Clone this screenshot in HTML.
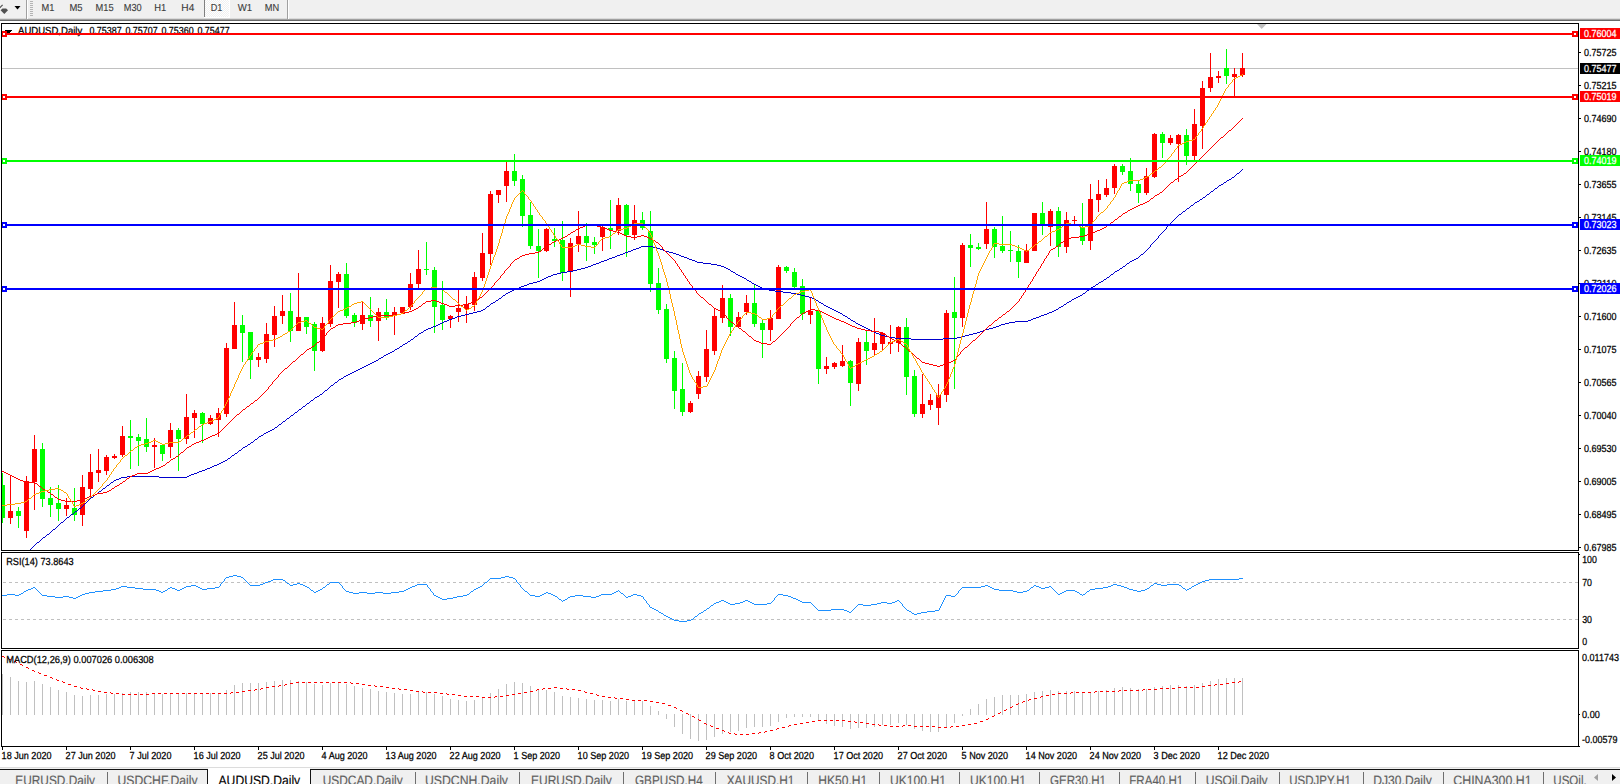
<!DOCTYPE html><html><head><meta charset="utf-8"><title>AUDUSD,Daily</title>
<style>html,body{margin:0;padding:0;background:#fff;overflow:hidden}svg{display:block}text{font-family:"Liberation Sans",sans-serif;font-size:10.2px;fill:#000;stroke:#000;stroke-width:0.25px;text-rendering:geometricPrecision}.tb{fill:#3c3c3c;stroke:#3c3c3c;stroke-width:0.12px}.tab{font-size:13.6px;fill:#5f5f5f;stroke:#5f5f5f;stroke-width:0.15px}.w{fill:#fff;stroke:#fff}</style></head><body>
<svg width="1620" height="784" viewBox="0 0 1620 784" shape-rendering="crispEdges">
<rect x="0" y="0" width="1620" height="784" fill="#fff"/>
<rect x="0" y="0" width="1620" height="19" fill="#f0f0f0"/>
<rect x="0" y="18" width="1620" height="1" fill="#dadada"/>
<rect x="0" y="19" width="1620" height="1" fill="#a0a0a0"/>
<rect x="0" y="20" width="1620" height="1" fill="#696969"/>
<path d="M2.5 8.6 L6.2 8.6 L8 10.3 L4.3 14 L0.6 10.3 Z" fill="#505050" shape-rendering="auto"/><path d="M-0.3 7.9 L2.6 4.8" stroke="#505050" stroke-width="1.2" shape-rendering="auto"/>
<path d="M14.5 6 L20.5 6 L17.5 9.5 Z" fill="#000" shape-rendering="auto"/>
<rect x="26" y="0" width="1" height="19" fill="#a0a0a0"/><rect x="27" y="0" width="1" height="19" fill="#fff"/>
<rect x="30" y="1" width="3" height="1" fill="#b4b4b4"/>
<rect x="30" y="3" width="3" height="1" fill="#b4b4b4"/>
<rect x="30" y="5" width="3" height="1" fill="#b4b4b4"/>
<rect x="30" y="7" width="3" height="1" fill="#b4b4b4"/>
<rect x="30" y="9" width="3" height="1" fill="#b4b4b4"/>
<rect x="30" y="11" width="3" height="1" fill="#b4b4b4"/>
<rect x="30" y="13" width="3" height="1" fill="#b4b4b4"/>
<rect x="30" y="15" width="3" height="1" fill="#b4b4b4"/>
<defs><pattern id="chk" width="2" height="2" patternUnits="userSpaceOnUse"><rect width="2" height="2" fill="#f0f0f0"/><rect width="1" height="1" fill="#fff"/><rect x="1" y="1" width="1" height="1" fill="#fff"/></pattern></defs>
<rect x="205" y="0" width="24" height="17" fill="url(#chk)"/><rect x="204" y="0" width="1" height="17" fill="#808080"/><rect x="204" y="17" width="26" height="1" fill="#fff"/><rect x="229" y="0" width="1" height="17" fill="#fff"/>
<rect x="287" y="0" width="1" height="19" fill="#a0a0a0"/><rect x="288" y="0" width="1" height="19" fill="#fff"/>
<text class="tb" x="41.5" y="11" textLength="12.9" lengthAdjust="spacingAndGlyphs">M1</text>
<text class="tb" x="69.4" y="11" textLength="13.1" lengthAdjust="spacingAndGlyphs">M5</text>
<text class="tb" x="95.5" y="11" textLength="18.1" lengthAdjust="spacingAndGlyphs">M15</text>
<text class="tb" x="123.7" y="11" textLength="18.0" lengthAdjust="spacingAndGlyphs">M30</text>
<text class="tb" x="154.3" y="11" textLength="12.0" lengthAdjust="spacingAndGlyphs">H1</text>
<text class="tb" x="181.3" y="11" textLength="13.0" lengthAdjust="spacingAndGlyphs">H4</text>
<text class="tb" x="210.7" y="11" textLength="11.6" lengthAdjust="spacingAndGlyphs">D1</text>
<text class="tb" x="237.8" y="11" textLength="14.4" lengthAdjust="spacingAndGlyphs">W1</text>
<text class="tb" x="264.7" y="11" textLength="14.4" lengthAdjust="spacingAndGlyphs">MN</text>
<defs><clipPath id="cm"><rect x="2" y="24" width="1576" height="526"/></clipPath></defs>
<rect x="2" y="68" width="1576" height="1" fill="#c0c0c0"/>
<g clip-path="url(#cm)">
<rect x="2" y="473" width="1" height="50" fill="#00ff00"/>
<rect x="0" y="485" width="5" height="33" fill="#00ff00"/>
<rect x="10" y="476" width="1" height="48" fill="#ff0000"/>
<rect x="8" y="511" width="5" height="7" fill="#ff0000"/>
<rect x="18" y="507" width="1" height="21" fill="#00ff00"/>
<rect x="16" y="511" width="5" height="5" fill="#00ff00"/>
<rect x="26" y="476" width="1" height="62" fill="#ff0000"/>
<rect x="24" y="481" width="5" height="50" fill="#ff0000"/>
<rect x="34" y="435" width="1" height="75" fill="#ff0000"/>
<rect x="32" y="449" width="5" height="33" fill="#ff0000"/>
<rect x="42" y="443" width="1" height="64" fill="#00ff00"/>
<rect x="40" y="449" width="5" height="50" fill="#00ff00"/>
<rect x="50" y="487" width="1" height="30" fill="#00ff00"/>
<rect x="48" y="498" width="5" height="7" fill="#00ff00"/>
<rect x="58" y="485" width="1" height="36" fill="#00ff00"/>
<rect x="56" y="503" width="5" height="6" fill="#00ff00"/>
<rect x="66" y="498" width="1" height="18" fill="#ff0000"/>
<rect x="64" y="505" width="5" height="4" fill="#ff0000"/>
<rect x="74" y="488" width="1" height="33" fill="#00ff00"/>
<rect x="72" y="508" width="5" height="7" fill="#00ff00"/>
<rect x="82" y="475" width="1" height="51" fill="#ff0000"/>
<rect x="80" y="487" width="5" height="28" fill="#ff0000"/>
<rect x="90" y="454" width="1" height="43" fill="#ff0000"/>
<rect x="88" y="472" width="5" height="17" fill="#ff0000"/>
<rect x="98" y="449" width="1" height="33" fill="#ff0000"/>
<rect x="96" y="470" width="5" height="3" fill="#ff0000"/>
<rect x="106" y="455" width="1" height="20" fill="#ff0000"/>
<rect x="104" y="457" width="5" height="14" fill="#ff0000"/>
<rect x="114" y="454" width="1" height="5" fill="#ff0000"/>
<rect x="112" y="456" width="5" height="2" fill="#ff0000"/>
<rect x="122" y="426" width="1" height="31" fill="#ff0000"/>
<rect x="120" y="436" width="5" height="19" fill="#ff0000"/>
<rect x="130" y="420" width="1" height="49" fill="#00ff00"/>
<rect x="128" y="436" width="5" height="2" fill="#00ff00"/>
<rect x="138" y="434" width="1" height="32" fill="#00ff00"/>
<rect x="136" y="437" width="5" height="4" fill="#00ff00"/>
<rect x="146" y="418" width="1" height="34" fill="#00ff00"/>
<rect x="144" y="439" width="5" height="8" fill="#00ff00"/>
<rect x="154" y="438" width="1" height="30" fill="#ff0000"/>
<rect x="152" y="445" width="5" height="2" fill="#ff0000"/>
<rect x="162" y="445" width="1" height="16" fill="#00ff00"/>
<rect x="160" y="445" width="5" height="9" fill="#00ff00"/>
<rect x="170" y="423" width="1" height="35" fill="#ff0000"/>
<rect x="168" y="430" width="5" height="17" fill="#ff0000"/>
<rect x="178" y="428" width="1" height="43" fill="#00ff00"/>
<rect x="176" y="430" width="5" height="9" fill="#00ff00"/>
<rect x="186" y="394" width="1" height="50" fill="#ff0000"/>
<rect x="184" y="417" width="5" height="22" fill="#ff0000"/>
<rect x="194" y="410" width="1" height="28" fill="#ff0000"/>
<rect x="192" y="413" width="5" height="5" fill="#ff0000"/>
<rect x="202" y="412" width="1" height="31" fill="#00ff00"/>
<rect x="200" y="413" width="5" height="11" fill="#00ff00"/>
<rect x="210" y="415" width="1" height="10" fill="#ff0000"/>
<rect x="208" y="418" width="5" height="6" fill="#ff0000"/>
<rect x="218" y="408" width="1" height="29" fill="#ff0000"/>
<rect x="216" y="413" width="5" height="7" fill="#ff0000"/>
<rect x="226" y="343" width="1" height="74" fill="#ff0000"/>
<rect x="224" y="348" width="5" height="66" fill="#ff0000"/>
<rect x="234" y="302" width="1" height="47" fill="#ff0000"/>
<rect x="232" y="325" width="5" height="24" fill="#ff0000"/>
<rect x="242" y="315" width="1" height="47" fill="#00ff00"/>
<rect x="240" y="325" width="5" height="8" fill="#00ff00"/>
<rect x="250" y="332" width="1" height="47" fill="#00ff00"/>
<rect x="248" y="332" width="5" height="28" fill="#00ff00"/>
<rect x="258" y="353" width="1" height="14" fill="#ff0000"/>
<rect x="256" y="357" width="5" height="3" fill="#ff0000"/>
<rect x="266" y="323" width="1" height="40" fill="#ff0000"/>
<rect x="264" y="334" width="5" height="25" fill="#ff0000"/>
<rect x="274" y="306" width="1" height="41" fill="#ff0000"/>
<rect x="272" y="316" width="5" height="19" fill="#ff0000"/>
<rect x="282" y="295" width="1" height="29" fill="#ff0000"/>
<rect x="280" y="311" width="5" height="5" fill="#ff0000"/>
<rect x="290" y="293" width="1" height="49" fill="#00ff00"/>
<rect x="288" y="311" width="5" height="20" fill="#00ff00"/>
<rect x="298" y="273" width="1" height="58" fill="#ff0000"/>
<rect x="296" y="317" width="5" height="14" fill="#ff0000"/>
<rect x="306" y="317" width="1" height="17" fill="#00ff00"/>
<rect x="304" y="317" width="5" height="10" fill="#00ff00"/>
<rect x="314" y="322" width="1" height="49" fill="#00ff00"/>
<rect x="312" y="324" width="5" height="27" fill="#00ff00"/>
<rect x="322" y="317" width="1" height="35" fill="#ff0000"/>
<rect x="320" y="323" width="5" height="28" fill="#ff0000"/>
<rect x="330" y="265" width="1" height="62" fill="#ff0000"/>
<rect x="328" y="281" width="5" height="43" fill="#ff0000"/>
<rect x="338" y="272" width="1" height="36" fill="#ff0000"/>
<rect x="336" y="274" width="5" height="8" fill="#ff0000"/>
<rect x="346" y="263" width="1" height="55" fill="#00ff00"/>
<rect x="344" y="274" width="5" height="42" fill="#00ff00"/>
<rect x="354" y="313" width="1" height="14" fill="#00ff00"/>
<rect x="352" y="315" width="5" height="8" fill="#00ff00"/>
<rect x="362" y="301" width="1" height="29" fill="#ff0000"/>
<rect x="360" y="315" width="5" height="9" fill="#ff0000"/>
<rect x="370" y="297" width="1" height="30" fill="#00ff00"/>
<rect x="368" y="315" width="5" height="6" fill="#00ff00"/>
<rect x="378" y="308" width="1" height="33" fill="#ff0000"/>
<rect x="376" y="312" width="5" height="9" fill="#ff0000"/>
<rect x="386" y="299" width="1" height="21" fill="#00ff00"/>
<rect x="384" y="312" width="5" height="5" fill="#00ff00"/>
<rect x="394" y="307" width="1" height="28" fill="#ff0000"/>
<rect x="392" y="312" width="5" height="4" fill="#ff0000"/>
<rect x="402" y="307" width="1" height="6" fill="#ff0000"/>
<rect x="400" y="307" width="5" height="6" fill="#ff0000"/>
<rect x="410" y="273" width="1" height="37" fill="#ff0000"/>
<rect x="408" y="284" width="5" height="23" fill="#ff0000"/>
<rect x="418" y="250" width="1" height="38" fill="#ff0000"/>
<rect x="416" y="269" width="5" height="15" fill="#ff0000"/>
<rect x="426" y="242" width="1" height="33" fill="#00ff00"/>
<rect x="424" y="269" width="5" height="1" fill="#00ff00"/>
<rect x="434" y="267" width="1" height="66" fill="#00ff00"/>
<rect x="432" y="270" width="5" height="37" fill="#00ff00"/>
<rect x="442" y="281" width="1" height="49" fill="#00ff00"/>
<rect x="440" y="305" width="5" height="15" fill="#00ff00"/>
<rect x="450" y="315" width="1" height="13" fill="#ff0000"/>
<rect x="448" y="316" width="5" height="3" fill="#ff0000"/>
<rect x="458" y="289" width="1" height="33" fill="#ff0000"/>
<rect x="456" y="308" width="5" height="4" fill="#ff0000"/>
<rect x="466" y="296" width="1" height="27" fill="#ff0000"/>
<rect x="464" y="304" width="5" height="5" fill="#ff0000"/>
<rect x="474" y="272" width="1" height="39" fill="#ff0000"/>
<rect x="472" y="277" width="5" height="28" fill="#ff0000"/>
<rect x="482" y="233" width="1" height="48" fill="#ff0000"/>
<rect x="480" y="253" width="5" height="25" fill="#ff0000"/>
<rect x="490" y="191" width="1" height="74" fill="#ff0000"/>
<rect x="488" y="194" width="5" height="60" fill="#ff0000"/>
<rect x="498" y="190" width="1" height="13" fill="#ff0000"/>
<rect x="496" y="190" width="5" height="5" fill="#ff0000"/>
<rect x="506" y="162" width="1" height="40" fill="#ff0000"/>
<rect x="504" y="171" width="5" height="15" fill="#ff0000"/>
<rect x="514" y="154" width="1" height="32" fill="#00ff00"/>
<rect x="512" y="171" width="5" height="10" fill="#00ff00"/>
<rect x="522" y="175" width="1" height="52" fill="#00ff00"/>
<rect x="520" y="179" width="5" height="37" fill="#00ff00"/>
<rect x="530" y="202" width="1" height="47" fill="#00ff00"/>
<rect x="528" y="215" width="5" height="31" fill="#00ff00"/>
<rect x="538" y="229" width="1" height="49" fill="#00ff00"/>
<rect x="536" y="246" width="5" height="5" fill="#00ff00"/>
<rect x="546" y="228" width="1" height="24" fill="#ff0000"/>
<rect x="544" y="229" width="5" height="22" fill="#ff0000"/>
<rect x="554" y="228" width="1" height="19" fill="#00ff00"/>
<rect x="552" y="239" width="5" height="2" fill="#00ff00"/>
<rect x="562" y="221" width="1" height="60" fill="#00ff00"/>
<rect x="560" y="240" width="5" height="33" fill="#00ff00"/>
<rect x="570" y="238" width="1" height="59" fill="#ff0000"/>
<rect x="568" y="243" width="5" height="29" fill="#ff0000"/>
<rect x="578" y="211" width="1" height="41" fill="#ff0000"/>
<rect x="576" y="236" width="5" height="8" fill="#ff0000"/>
<rect x="586" y="223" width="1" height="38" fill="#00ff00"/>
<rect x="584" y="236" width="5" height="7" fill="#00ff00"/>
<rect x="594" y="237" width="1" height="17" fill="#00ff00"/>
<rect x="592" y="242" width="5" height="3" fill="#00ff00"/>
<rect x="602" y="226" width="1" height="25" fill="#ff0000"/>
<rect x="600" y="227" width="5" height="10" fill="#ff0000"/>
<rect x="610" y="200" width="1" height="49" fill="#00ff00"/>
<rect x="608" y="228" width="5" height="2" fill="#00ff00"/>
<rect x="618" y="198" width="1" height="37" fill="#ff0000"/>
<rect x="616" y="205" width="5" height="26" fill="#ff0000"/>
<rect x="626" y="204" width="1" height="53" fill="#00ff00"/>
<rect x="624" y="205" width="5" height="30" fill="#00ff00"/>
<rect x="634" y="205" width="1" height="35" fill="#ff0000"/>
<rect x="632" y="220" width="5" height="15" fill="#ff0000"/>
<rect x="642" y="212" width="1" height="18" fill="#00ff00"/>
<rect x="640" y="220" width="5" height="8" fill="#00ff00"/>
<rect x="650" y="211" width="1" height="81" fill="#00ff00"/>
<rect x="648" y="231" width="5" height="53" fill="#00ff00"/>
<rect x="658" y="268" width="1" height="46" fill="#00ff00"/>
<rect x="656" y="283" width="5" height="27" fill="#00ff00"/>
<rect x="666" y="304" width="1" height="59" fill="#00ff00"/>
<rect x="664" y="309" width="5" height="50" fill="#00ff00"/>
<rect x="674" y="351" width="1" height="58" fill="#00ff00"/>
<rect x="672" y="358" width="5" height="33" fill="#00ff00"/>
<rect x="682" y="363" width="1" height="53" fill="#00ff00"/>
<rect x="680" y="389" width="5" height="23" fill="#00ff00"/>
<rect x="690" y="401" width="1" height="12" fill="#ff0000"/>
<rect x="688" y="403" width="5" height="9" fill="#ff0000"/>
<rect x="698" y="371" width="1" height="28" fill="#ff0000"/>
<rect x="696" y="376" width="5" height="18" fill="#ff0000"/>
<rect x="706" y="330" width="1" height="52" fill="#ff0000"/>
<rect x="704" y="349" width="5" height="28" fill="#ff0000"/>
<rect x="714" y="308" width="1" height="47" fill="#ff0000"/>
<rect x="712" y="316" width="5" height="35" fill="#ff0000"/>
<rect x="722" y="285" width="1" height="38" fill="#ff0000"/>
<rect x="720" y="298" width="5" height="20" fill="#ff0000"/>
<rect x="730" y="294" width="1" height="42" fill="#00ff00"/>
<rect x="728" y="298" width="5" height="29" fill="#00ff00"/>
<rect x="738" y="312" width="1" height="16" fill="#ff0000"/>
<rect x="736" y="317" width="5" height="10" fill="#ff0000"/>
<rect x="746" y="295" width="1" height="20" fill="#ff0000"/>
<rect x="744" y="303" width="5" height="9" fill="#ff0000"/>
<rect x="754" y="285" width="1" height="42" fill="#00ff00"/>
<rect x="752" y="303" width="5" height="21" fill="#00ff00"/>
<rect x="762" y="320" width="1" height="38" fill="#00ff00"/>
<rect x="760" y="323" width="5" height="7" fill="#00ff00"/>
<rect x="770" y="310" width="1" height="31" fill="#ff0000"/>
<rect x="768" y="318" width="5" height="12" fill="#ff0000"/>
<rect x="778" y="265" width="1" height="54" fill="#ff0000"/>
<rect x="776" y="267" width="5" height="52" fill="#ff0000"/>
<rect x="786" y="266" width="1" height="7" fill="#00ff00"/>
<rect x="784" y="267" width="5" height="4" fill="#00ff00"/>
<rect x="794" y="268" width="1" height="20" fill="#00ff00"/>
<rect x="792" y="272" width="5" height="15" fill="#00ff00"/>
<rect x="802" y="279" width="1" height="41" fill="#00ff00"/>
<rect x="800" y="286" width="5" height="28" fill="#00ff00"/>
<rect x="810" y="298" width="1" height="26" fill="#ff0000"/>
<rect x="808" y="311" width="5" height="4" fill="#ff0000"/>
<rect x="818" y="311" width="1" height="73" fill="#00ff00"/>
<rect x="816" y="311" width="5" height="58" fill="#00ff00"/>
<rect x="826" y="357" width="1" height="17" fill="#ff0000"/>
<rect x="824" y="366" width="5" height="3" fill="#ff0000"/>
<rect x="834" y="362" width="1" height="7" fill="#ff0000"/>
<rect x="832" y="363" width="5" height="4" fill="#ff0000"/>
<rect x="842" y="345" width="1" height="22" fill="#ff0000"/>
<rect x="840" y="361" width="5" height="5" fill="#ff0000"/>
<rect x="850" y="360" width="1" height="46" fill="#00ff00"/>
<rect x="848" y="361" width="5" height="22" fill="#00ff00"/>
<rect x="858" y="338" width="1" height="53" fill="#ff0000"/>
<rect x="856" y="342" width="5" height="42" fill="#ff0000"/>
<rect x="866" y="331" width="1" height="34" fill="#00ff00"/>
<rect x="864" y="342" width="5" height="9" fill="#00ff00"/>
<rect x="874" y="318" width="1" height="37" fill="#ff0000"/>
<rect x="872" y="343" width="5" height="7" fill="#ff0000"/>
<rect x="882" y="332" width="1" height="18" fill="#ff0000"/>
<rect x="880" y="333" width="5" height="11" fill="#ff0000"/>
<rect x="890" y="325" width="1" height="29" fill="#ff0000"/>
<rect x="888" y="342" width="5" height="2" fill="#ff0000"/>
<rect x="898" y="326" width="1" height="26" fill="#ff0000"/>
<rect x="896" y="327" width="5" height="16" fill="#ff0000"/>
<rect x="906" y="318" width="1" height="77" fill="#00ff00"/>
<rect x="904" y="327" width="5" height="50" fill="#00ff00"/>
<rect x="914" y="370" width="1" height="47" fill="#00ff00"/>
<rect x="912" y="376" width="5" height="38" fill="#00ff00"/>
<rect x="922" y="374" width="1" height="44" fill="#ff0000"/>
<rect x="920" y="404" width="5" height="10" fill="#ff0000"/>
<rect x="930" y="394" width="1" height="16" fill="#ff0000"/>
<rect x="928" y="400" width="5" height="5" fill="#ff0000"/>
<rect x="938" y="384" width="1" height="41" fill="#ff0000"/>
<rect x="936" y="395" width="5" height="13" fill="#ff0000"/>
<rect x="946" y="310" width="1" height="92" fill="#ff0000"/>
<rect x="944" y="313" width="5" height="82" fill="#ff0000"/>
<rect x="954" y="277" width="1" height="112" fill="#00ff00"/>
<rect x="952" y="312" width="5" height="6" fill="#00ff00"/>
<rect x="962" y="243" width="1" height="84" fill="#ff0000"/>
<rect x="960" y="245" width="5" height="73" fill="#ff0000"/>
<rect x="970" y="234" width="1" height="33" fill="#00ff00"/>
<rect x="968" y="245" width="5" height="3" fill="#00ff00"/>
<rect x="978" y="243" width="1" height="7" fill="#00ff00"/>
<rect x="976" y="247" width="5" height="2" fill="#00ff00"/>
<rect x="986" y="202" width="1" height="47" fill="#ff0000"/>
<rect x="984" y="229" width="5" height="15" fill="#ff0000"/>
<rect x="994" y="227" width="1" height="31" fill="#00ff00"/>
<rect x="992" y="229" width="5" height="18" fill="#00ff00"/>
<rect x="1002" y="216" width="1" height="37" fill="#00ff00"/>
<rect x="1000" y="246" width="5" height="5" fill="#00ff00"/>
<rect x="1010" y="231" width="1" height="31" fill="#00ff00"/>
<rect x="1008" y="250" width="5" height="1" fill="#00ff00"/>
<rect x="1018" y="245" width="1" height="33" fill="#00ff00"/>
<rect x="1016" y="251" width="5" height="11" fill="#00ff00"/>
<rect x="1026" y="244" width="1" height="19" fill="#ff0000"/>
<rect x="1024" y="251" width="5" height="12" fill="#ff0000"/>
<rect x="1034" y="213" width="1" height="38" fill="#ff0000"/>
<rect x="1032" y="213" width="5" height="38" fill="#ff0000"/>
<rect x="1042" y="202" width="1" height="33" fill="#00ff00"/>
<rect x="1040" y="213" width="5" height="12" fill="#00ff00"/>
<rect x="1050" y="209" width="1" height="37" fill="#ff0000"/>
<rect x="1048" y="211" width="5" height="16" fill="#ff0000"/>
<rect x="1058" y="207" width="1" height="50" fill="#00ff00"/>
<rect x="1056" y="211" width="5" height="36" fill="#00ff00"/>
<rect x="1066" y="212" width="1" height="41" fill="#ff0000"/>
<rect x="1064" y="220" width="5" height="27" fill="#ff0000"/>
<rect x="1074" y="216" width="1" height="8" fill="#ff0000"/>
<rect x="1072" y="220" width="5" height="1" fill="#ff0000"/>
<rect x="1082" y="203" width="1" height="42" fill="#00ff00"/>
<rect x="1080" y="227" width="5" height="14" fill="#00ff00"/>
<rect x="1090" y="184" width="1" height="66" fill="#ff0000"/>
<rect x="1088" y="199" width="5" height="42" fill="#ff0000"/>
<rect x="1098" y="180" width="1" height="32" fill="#ff0000"/>
<rect x="1096" y="194" width="5" height="6" fill="#ff0000"/>
<rect x="1106" y="179" width="1" height="18" fill="#ff0000"/>
<rect x="1104" y="188" width="5" height="7" fill="#ff0000"/>
<rect x="1114" y="164" width="1" height="30" fill="#ff0000"/>
<rect x="1112" y="166" width="5" height="22" fill="#ff0000"/>
<rect x="1122" y="164" width="1" height="11" fill="#00ff00"/>
<rect x="1120" y="166" width="5" height="6" fill="#00ff00"/>
<rect x="1130" y="158" width="1" height="33" fill="#00ff00"/>
<rect x="1128" y="171" width="5" height="13" fill="#00ff00"/>
<rect x="1138" y="181" width="1" height="22" fill="#00ff00"/>
<rect x="1136" y="184" width="5" height="9" fill="#00ff00"/>
<rect x="1146" y="168" width="1" height="27" fill="#ff0000"/>
<rect x="1144" y="176" width="5" height="17" fill="#ff0000"/>
<rect x="1154" y="133" width="1" height="45" fill="#ff0000"/>
<rect x="1152" y="134" width="5" height="43" fill="#ff0000"/>
<rect x="1162" y="132" width="1" height="26" fill="#00ff00"/>
<rect x="1160" y="134" width="5" height="9" fill="#00ff00"/>
<rect x="1170" y="135" width="1" height="10" fill="#ff0000"/>
<rect x="1168" y="138" width="5" height="5" fill="#ff0000"/>
<rect x="1178" y="134" width="1" height="48" fill="#ff0000"/>
<rect x="1176" y="135" width="5" height="9" fill="#ff0000"/>
<rect x="1186" y="129" width="1" height="36" fill="#00ff00"/>
<rect x="1184" y="135" width="5" height="21" fill="#00ff00"/>
<rect x="1194" y="109" width="1" height="51" fill="#ff0000"/>
<rect x="1192" y="124" width="5" height="32" fill="#ff0000"/>
<rect x="1202" y="81" width="1" height="68" fill="#ff0000"/>
<rect x="1200" y="88" width="5" height="38" fill="#ff0000"/>
<rect x="1210" y="53" width="1" height="39" fill="#ff0000"/>
<rect x="1208" y="77" width="5" height="11" fill="#ff0000"/>
<rect x="1218" y="71" width="1" height="12" fill="#ff0000"/>
<rect x="1216" y="76" width="5" height="2" fill="#ff0000"/>
<rect x="1226" y="49" width="1" height="35" fill="#00ff00"/>
<rect x="1224" y="68" width="5" height="8" fill="#00ff00"/>
<rect x="1234" y="68" width="1" height="28" fill="#ff0000"/>
<rect x="1232" y="74" width="5" height="3" fill="#ff0000"/>
<rect x="1242" y="53" width="1" height="24" fill="#ff0000"/>
<rect x="1240" y="68" width="5" height="7" fill="#ff0000"/>
<path d="M1242 169.5h1M1241 170.5h1M1240 171.5h1M1239 172.5h1M1237 173.5h2M1236 174.5h1M1235 175.5h1M1234 176.5h1M1232 177.5h2M1231 178.5h1M1229 179.5h2M1227 180.5h2M1226 181.5h1M1224 182.5h2M1223 183.5h1M1221 184.5h2M1219 185.5h2M1218 186.5h1M1217 187.5h1M1215 188.5h2M1214 189.5h1M1213 190.5h1M1211 191.5h2M1210 192.5h1M1209 193.5h1M1207 194.5h2M1206 195.5h1M1205 196.5h1M1203 197.5h2M1202 198.5h1M1200 199.5h2M1199 200.5h1M1197 201.5h2M1195 202.5h2M1194 203.5h1M1193 204.5h1M1191 205.5h2M1190 206.5h1M1189 207.5h1M1187 208.5h2M1186 209.5h1M1185 210.5h1M1183 211.5h2M1182 212.5h1M1181 213.5h1M1179 214.5h2M1178 215.5h1M1177 216.5h1M1176 217.5h1M1175 218.5h1M1174 219.5h1M1173 220.5h1M1172 221.5h1M1171 222.5h1M1170 223.5h1M1169 224.5h1M1168 225.5h1M1167 226.5h1M1166.5 227v2M1165 229.5h1M1164 230.5h1M1163 231.5h1M1162 232.5h1M1161 233.5h1M1160 234.5h1M1159 235.5h1M1158.5 236v2M1157 238.5h1M1156 239.5h1M1155 240.5h1M1154 241.5h1M1153 242.5h1M1152 243.5h1M1151 244.5h1M1150.5 245v2M641 246.5h12M639 247.5h2M653 247.5h4M1149 247.5h1M636 248.5h3M657 248.5h3M1148 248.5h1M633 249.5h3M660 249.5h3M1147 249.5h1M631 250.5h2M663 250.5h2M1146 250.5h1M628 251.5h3M665 251.5h4M1145 251.5h1M625 252.5h3M669 252.5h4M1144 252.5h1M623 253.5h2M673 253.5h3M1143 253.5h1M620 254.5h3M676 254.5h3M1141 254.5h2M617 255.5h3M679 255.5h2M1140 255.5h1M615 256.5h2M681 256.5h3M1139 256.5h1M612 257.5h3M684 257.5h3M1138 257.5h1M609 258.5h3M687 258.5h2M1136 258.5h2M607 259.5h2M689 259.5h3M1134 259.5h2M604 260.5h3M692 260.5h3M1132 260.5h2M601 261.5h3M695 261.5h2M1130 261.5h2M599 262.5h2M697 262.5h6M1129 262.5h1M596 263.5h3M703 263.5h8M1127 263.5h2M593 264.5h3M711 264.5h6M1126 264.5h1M591 265.5h2M717 265.5h4M1125 265.5h1M588 266.5h3M721 266.5h3M1123 266.5h2M585 267.5h3M724 267.5h2M1122 267.5h1M581 268.5h4M726 268.5h2M1120 268.5h2M577 269.5h4M728 269.5h2M1119 269.5h1M573 270.5h4M730 270.5h1M1117 270.5h2M567 271.5h6M731 271.5h2M1115 271.5h2M561 272.5h6M733 272.5h2M1114 272.5h1M557 273.5h4M735 273.5h1M1113 273.5h1M553 274.5h4M736 274.5h2M1111 274.5h2M551 275.5h2M738 275.5h2M1110 275.5h1M548 276.5h3M740 276.5h2M1109 276.5h1M546 277.5h2M742 277.5h2M1107 277.5h2M544 278.5h2M744 278.5h2M1106 278.5h1M542 279.5h2M746 279.5h1M1104 279.5h2M540 280.5h2M747 280.5h2M1103 280.5h1M537 281.5h3M749 281.5h2M1101 281.5h2M533 282.5h4M751 282.5h1M1099 282.5h2M529 283.5h4M752 283.5h2M1098 283.5h1M527 284.5h2M754 284.5h2M1096 284.5h2M524 285.5h3M756 285.5h2M1095 285.5h1M521 286.5h3M758 286.5h2M1093 286.5h2M519 287.5h2M760 287.5h2M1091 287.5h2M516 288.5h3M762 288.5h3M1090 288.5h1M514 289.5h2M765 289.5h4M1089 289.5h1M512 290.5h2M769 290.5h6M1087 290.5h2M510 291.5h2M775 291.5h8M1086 291.5h1M508 292.5h2M783 292.5h8M1085 292.5h1M506 293.5h2M791 293.5h6M1083 293.5h2M505 294.5h1M797 294.5h4M1082 294.5h1M503 295.5h2M801 295.5h4M1080 295.5h2M502 296.5h1M805 296.5h4M1078 296.5h2M501 297.5h1M809 297.5h3M1076 297.5h2M499 298.5h2M812 298.5h2M1074 298.5h2M498 299.5h1M814 299.5h2M1072 299.5h2M496 300.5h2M816 300.5h2M1071 300.5h1M495 301.5h1M818 301.5h1M1069 301.5h2M493 302.5h2M819 302.5h2M1067 302.5h2M491 303.5h2M821 303.5h2M1066 303.5h1M490 304.5h1M823 304.5h1M1064 304.5h2M489 305.5h1M824 305.5h2M1063 305.5h1M487 306.5h2M826 306.5h2M1061 306.5h2M486 307.5h1M828 307.5h2M1059 307.5h2M485 308.5h1M830 308.5h2M1058 308.5h1M483 309.5h2M832 309.5h2M1056 309.5h2M481 310.5h2M834 310.5h2M1054 310.5h2M477 311.5h4M836 311.5h2M1052 311.5h2M473 312.5h4M838 312.5h2M1049 312.5h3M469 313.5h4M840 313.5h2M1047 313.5h2M465 314.5h4M842 314.5h1M1044 314.5h3M461 315.5h4M843 315.5h2M1041 315.5h3M457 316.5h4M845 316.5h2M1039 316.5h2M455 317.5h2M847 317.5h1M1036 317.5h3M452 318.5h3M848 318.5h2M1033 318.5h3M449 319.5h3M850 319.5h1M1031 319.5h2M447 320.5h2M851 320.5h2M1028 320.5h3M444 321.5h3M853 321.5h2M1015 321.5h13M442 322.5h2M855 322.5h1M1009 322.5h6M440 323.5h2M856 323.5h2M1005 323.5h4M438 324.5h2M858 324.5h2M1001 324.5h4M436 325.5h2M860 325.5h2M999 325.5h2M433 326.5h3M862 326.5h2M996 326.5h3M431 327.5h2M864 327.5h2M993 327.5h3M428 328.5h3M866 328.5h2M989 328.5h4M426 329.5h2M868 329.5h2M985 329.5h4M424 330.5h2M870 330.5h2M983 330.5h2M423 331.5h1M872 331.5h2M980 331.5h3M421 332.5h2M874 332.5h2M977 332.5h3M419 333.5h2M876 333.5h3M973 333.5h4M418 334.5h1M879 334.5h2M969 334.5h4M417 335.5h1M881 335.5h4M965 335.5h4M415 336.5h2M885 336.5h4M961 336.5h4M414 337.5h1M889 337.5h6M957 337.5h4M413 338.5h1M895 338.5h16M943 338.5h14M411 339.5h2M911 339.5h32M410 340.5h1M408 341.5h2M407 342.5h1M405 343.5h2M403 344.5h2M402 345.5h1M400 346.5h2M399 347.5h1M397 348.5h2M395 349.5h2M394 350.5h1M392 351.5h2M390 352.5h2M388 353.5h2M386 354.5h2M384 355.5h2M383 356.5h1M381 357.5h2M379 358.5h2M378 359.5h1M376 360.5h2M374 361.5h2M372 362.5h2M370 363.5h2M368 364.5h2M366 365.5h2M364 366.5h2M362 367.5h2M360 368.5h2M358 369.5h2M356 370.5h2M354 371.5h2M352 372.5h2M350 373.5h2M348 374.5h2M346 375.5h2M344 376.5h2M343 377.5h1M341 378.5h2M339 379.5h2M338 380.5h1M337 381.5h1M335 382.5h2M334 383.5h1M333 384.5h1M331 385.5h2M330 386.5h1M329 387.5h1M328 388.5h1M327 389.5h1M325 390.5h2M324 391.5h1M323 392.5h1M322 393.5h1M320 394.5h2M319 395.5h1M317 396.5h2M315 397.5h2M314 398.5h1M313 399.5h1M311 400.5h2M310 401.5h1M309 402.5h1M307 403.5h2M306 404.5h1M305 405.5h1M303 406.5h2M302 407.5h1M301 408.5h1M299 409.5h2M298 410.5h1M297 411.5h1M295 412.5h2M294 413.5h1M293 414.5h1M291 415.5h2M290 416.5h1M289 417.5h1M287 418.5h2M286 419.5h1M285 420.5h1M283 421.5h2M282 422.5h1M281 423.5h1M279 424.5h2M278 425.5h1M277 426.5h1M275 427.5h2M274 428.5h1M272 429.5h2M270 430.5h2M268 431.5h2M266 432.5h2M264 433.5h2M263 434.5h1M261 435.5h2M259 436.5h2M258 437.5h1M257 438.5h1M255 439.5h2M254 440.5h1M253 441.5h1M251 442.5h2M250 443.5h1M248 444.5h2M247 445.5h1M245 446.5h2M243 447.5h2M242 448.5h1M241 449.5h1M239 450.5h2M238 451.5h1M237 452.5h1M235 453.5h2M234 454.5h1M232 455.5h2M231 456.5h1M230 457.5h1M228 458.5h2M227 459.5h1M225 460.5h2M223 461.5h2M221 462.5h2M219 463.5h2M217 464.5h2M214 465.5h3M212 466.5h2M210 467.5h2M207 468.5h3M205 469.5h2M202 470.5h3M199 471.5h3M197 472.5h2M194 473.5h3M191 474.5h3M189 475.5h2M127 476.5h32M187 476.5h2M121 477.5h6M159 477.5h28M119 478.5h2M116 479.5h3M114 480.5h2M113 481.5h1M111 482.5h2M110 483.5h1M109 484.5h1M107 485.5h2M106 486.5h1M105 487.5h1M103 488.5h2M102 489.5h1M101 490.5h1M99 491.5h2M98 492.5h1M97 493.5h1M95 494.5h2M94 495.5h1M93 496.5h1M91 497.5h2M90 498.5h1M89 499.5h1M88 500.5h1M87 501.5h1M86 502.5h1M85 503.5h1M84 504.5h1M83 505.5h1M82 506.5h1M81 507.5h1M79 508.5h2M78 509.5h1M77 510.5h1M75 511.5h2M74 512.5h1M73 513.5h1M71 514.5h2M70 515.5h1M69 516.5h1M67 517.5h2M66 518.5h1M65 519.5h1M64 520.5h1M63 521.5h1M61 522.5h2M60 523.5h1M59 524.5h1M58 525.5h1M57 526.5h1M56 527.5h1M55 528.5h1M53 529.5h2M52 530.5h1M51 531.5h1M50 532.5h1M49 533.5h1M47 534.5h2M46 535.5h1M45 536.5h1M43 537.5h2M42 538.5h1M41 539.5h1M40 540.5h1M39 541.5h1M37 542.5h2M36 543.5h1M35 544.5h1M34 545.5h1M33 546.5h1M32 547.5h1M31 548.5h1M30 549.5h1" fill="none" stroke="#0000cd" stroke-width="1"/>
<path d="M1242 118.5h1M1241 119.5h1M1240 120.5h1M1239 121.5h1M1238 122.5h1M1237 123.5h1M1236 124.5h1M1235 125.5h1M1234 126.5h1M1233 127.5h1M1232 128.5h1M1231 129.5h1M1229 130.5h2M1228 131.5h1M1227 132.5h1M1226 133.5h1M1225 134.5h1M1224 135.5h1M1223 136.5h1M1221 137.5h2M1220 138.5h1M1219 139.5h1M1218 140.5h1M1217 141.5h1M1216 142.5h1M1215 143.5h1M1214 144.5h1M1213 145.5h1M1212 146.5h1M1211 147.5h1M1210 148.5h1M1209 149.5h1M1208 150.5h1M1207 151.5h1M1206 152.5h1M1205 153.5h1M1204 154.5h1M1203 155.5h1M1202 156.5h1M1201 157.5h1M1200 158.5h1M1199 159.5h1M1198 160.5h1M1197 161.5h1M1196 162.5h1M1195 163.5h1M1194 164.5h1M1193 165.5h1M1192 166.5h1M1191 167.5h1M1190 168.5h1M1189 169.5h1M1188 170.5h1M1187 171.5h1M1186 172.5h1M1184 173.5h2M1183 174.5h1M1181 175.5h2M1179 176.5h2M1178 177.5h1M1177 178.5h1M1175 179.5h2M1174 180.5h1M1173 181.5h1M1171 182.5h2M1170 183.5h1M1169 184.5h1M1168 185.5h1M1167 186.5h1M1166 187.5h1M1165 188.5h1M1164 189.5h1M1163 190.5h1M1162 191.5h1M1160 192.5h2M1159 193.5h1M1157 194.5h2M1155 195.5h2M1154 196.5h1M1153 197.5h1M1151 198.5h2M1150 199.5h1M1149 200.5h1M1147 201.5h2M1145 202.5h2M1143 203.5h2M1140 204.5h3M1138 205.5h2M1136 206.5h2M1134 207.5h2M1132 208.5h2M1130 209.5h2M1128 210.5h2M1127 211.5h1M1125 212.5h2M1123 213.5h2M1122 214.5h1M1121 215.5h1M1119 216.5h2M1118 217.5h1M1117 218.5h1M1115 219.5h2M1114 220.5h1M1113 221.5h1M1111 222.5h2M1110 223.5h1M1109 224.5h1M585 225.5h12M1107 225.5h2M583 226.5h2M597 226.5h4M1106 226.5h1M580 227.5h3M601 227.5h3M1104 227.5h2M578 228.5h2M604 228.5h3M1102 228.5h2M576 229.5h2M607 229.5h2M1100 229.5h2M575 230.5h1M609 230.5h4M1097 230.5h3M573 231.5h2M613 231.5h4M1095 231.5h2M571 232.5h2M617 232.5h3M1092 232.5h3M570 233.5h1M620 233.5h2M1089 233.5h3M568 234.5h2M622 234.5h2M1087 234.5h2M567 235.5h1M624 235.5h2M641 235.5h3M1084 235.5h3M565 236.5h2M626 236.5h5M637 236.5h4M644 236.5h3M1079 236.5h5M563 237.5h2M631 237.5h6M647 237.5h2M1071 237.5h8M561 238.5h2M649 238.5h2M1066 238.5h5M559 239.5h2M651 239.5h2M1065 239.5h1M556 240.5h3M653 240.5h2M1064 240.5h1M554 241.5h2M655 241.5h1M1063 241.5h1M552 242.5h2M656 242.5h2M1061 242.5h2M551 243.5h1M658 243.5h1M1060 243.5h1M549 244.5h2M659 244.5h1M1059 244.5h1M547 245.5h2M660 245.5h1M1058 245.5h1M546 246.5h1M661 246.5h1M1056 246.5h2M545 247.5h1M662.5 247v2M1055 247.5h1M543 248.5h2M1053 248.5h2M542 249.5h1M663 249.5h1M1051 249.5h2M541 250.5h1M664 250.5h1M1050 250.5h1M539 251.5h2M665 251.5h1M1049.5 251v2M535 252.5h4M666 252.5h1M529 253.5h6M667 253.5h1M1048.5 253v2M525 254.5h4M668 254.5h1M522 255.5h3M669 255.5h1M1047 255.5h1M520 256.5h2M670 256.5h1M1046.5 256v2M519 257.5h1M671 257.5h1M517 258.5h2M672 258.5h1M1045 258.5h1M515 259.5h2M673 259.5h1M1044.5 259v2M514 260.5h1M674 260.5h1M513 261.5h1M675.5 261v2M1043.5 261v2M512 262.5h1M511 263.5h1M676 263.5h1M1042 263.5h1M510.5 264v2M677.5 264v2M1041.5 264v2M509 266.5h1M678 266.5h1M1040.5 266v2M508 267.5h1M679.5 267v2M507 268.5h1M1039 268.5h1M506 269.5h1M680 269.5h1M1038.5 269v2M505 270.5h1M681.5 270v2M504.5 271v2M1037 271.5h1M682 272.5h1M1036.5 272v2M503 273.5h1M683.5 273v2M502 274.5h1M1035.5 274v2M501 275.5h1M684 275.5h1M500.5 276v2M685.5 276v2M1034 276.5h1M1033.5 277v2M499 278.5h1M686 278.5h1M498 279.5h1M687.5 279v2M1032.5 279v2M497 280.5h1M496 281.5h1M688 281.5h1M1031 281.5h1M495 282.5h1M689.5 282v2M1030.5 282v2M494.5 283v2M690 284.5h1M1029 284.5h1M493 285.5h1M691 285.5h1M1028.5 285v2M492 286.5h1M692.5 286v2M491 287.5h1M1027.5 287v2M490 288.5h1M693 288.5h1M489 289.5h1M694 289.5h1M1026 289.5h1M488 290.5h1M695 290.5h1M1025.5 290v2M487 291.5h1M696.5 291v2M486 292.5h1M1024 292.5h1M485 293.5h1M697 293.5h1M1023.5 293v2M484 294.5h1M698 294.5h1M483 295.5h1M699 295.5h1M1022 295.5h1M482 296.5h1M700 296.5h1M1021.5 296v2M480 297.5h2M701 297.5h2M479 298.5h1M703 298.5h1M1020 298.5h1M477 299.5h2M704 299.5h1M1019.5 299v2M431 300.5h5M475 300.5h2M705 300.5h1M426 301.5h5M436 301.5h3M473 301.5h2M706 301.5h1M1018 301.5h1M425 302.5h1M439 302.5h2M471 302.5h2M707 302.5h1M1017 302.5h1M423 303.5h2M441 303.5h3M468 303.5h3M708 303.5h1M1016 303.5h1M422 304.5h1M444 304.5h3M463 304.5h5M709 304.5h2M1015 304.5h1M421 305.5h1M447 305.5h2M455 305.5h8M711 305.5h1M1014 305.5h1M419 306.5h2M449 306.5h6M712 306.5h1M1013 306.5h1M418 307.5h1M713 307.5h1M1012 307.5h1M416 308.5h2M714 308.5h2M1011 308.5h1M414 309.5h2M716 309.5h2M810 309.5h5M1010 309.5h1M412 310.5h2M718 310.5h2M808 310.5h2M815 310.5h5M1009 310.5h1M409 311.5h3M720 311.5h2M806 311.5h2M820 311.5h2M1007 311.5h2M405 312.5h4M722 312.5h1M804 312.5h2M822 312.5h2M1006 312.5h1M401 313.5h4M723 313.5h1M802 313.5h2M824 313.5h2M1005 313.5h1M397 314.5h4M724 314.5h1M801 314.5h1M826 314.5h2M1003 314.5h2M377 315.5h20M725 315.5h1M800 315.5h1M828 315.5h2M1002 315.5h1M373 316.5h4M726.5 316v2M799 316.5h1M830 316.5h2M1001 316.5h1M369 317.5h4M797 317.5h2M832 317.5h2M999 317.5h2M365 318.5h4M727 318.5h1M796 318.5h1M834 318.5h2M998 318.5h1M361 319.5h4M728 319.5h1M795 319.5h1M836 319.5h3M997 319.5h1M359 320.5h2M729 320.5h1M794 320.5h1M839 320.5h2M995 320.5h2M356 321.5h3M730 321.5h1M793 321.5h1M841 321.5h3M994 321.5h1M351 322.5h5M731 322.5h2M792 322.5h1M844 322.5h2M993 322.5h1M343 323.5h8M733 323.5h1M791 323.5h1M846 323.5h2M992 323.5h1M338 324.5h5M734 324.5h1M790.5 324v2M848 324.5h2M991 324.5h1M336 325.5h2M735 325.5h2M850 325.5h2M989 325.5h2M335 326.5h1M737 326.5h1M789 326.5h1M852 326.5h3M988 326.5h1M333 327.5h2M738 327.5h1M788 327.5h1M855 327.5h2M987 327.5h1M331 328.5h2M739 328.5h2M787 328.5h1M857 328.5h4M986 328.5h1M330 329.5h1M741 329.5h1M786 329.5h1M861 329.5h4M985 329.5h1M329 330.5h1M742 330.5h1M785 330.5h1M865 330.5h6M984 330.5h1M328 331.5h1M743 331.5h2M784 331.5h1M871 331.5h8M983 331.5h1M327 332.5h1M745 332.5h1M783 332.5h1M879 332.5h4M982 332.5h1M326.5 333v2M746 333.5h1M782 333.5h1M883 333.5h2M981 333.5h1M747 334.5h1M781 334.5h1M885 334.5h1M980 334.5h1M325 335.5h1M748 335.5h1M780 335.5h1M886 335.5h1M979 335.5h1M324 336.5h1M749 336.5h2M779 336.5h1M887 336.5h2M978 336.5h1M323 337.5h1M751 337.5h1M778 337.5h1M889 337.5h1M977 337.5h1M322 338.5h1M752 338.5h1M777 338.5h1M890 338.5h2M976 338.5h1M321 339.5h1M753 339.5h1M776 339.5h1M892 339.5h2M975 339.5h1M320 340.5h1M754 340.5h2M775 340.5h1M894 340.5h2M973 340.5h2M319 341.5h1M756 341.5h3M773 341.5h2M896 341.5h2M972 341.5h1M317 342.5h2M759 342.5h2M772 342.5h1M898 342.5h1M971 342.5h1M316 343.5h1M761 343.5h6M771 343.5h1M899 343.5h2M970 343.5h1M315 344.5h1M767 344.5h4M901 344.5h1M969 344.5h1M314 345.5h1M902 345.5h1M968 345.5h1M312 346.5h2M903 346.5h2M967 346.5h1M311 347.5h1M905 347.5h1M965 347.5h2M309 348.5h2M906 348.5h1M964 348.5h1M307 349.5h2M907 349.5h1M963 349.5h1M306 350.5h1M908 350.5h1M962 350.5h1M305 351.5h1M909 351.5h2M961 351.5h1M304 352.5h1M911 352.5h1M960.5 352v2M303 353.5h1M912 353.5h1M301 354.5h2M913 354.5h1M959 354.5h1M300 355.5h1M914 355.5h1M958 355.5h1M299 356.5h1M915 356.5h1M957 356.5h1M298 357.5h1M916 357.5h1M956.5 357v2M297 358.5h1M917 358.5h2M296 359.5h1M919 359.5h1M955 359.5h1M295 360.5h1M920 360.5h1M953 360.5h2M293 361.5h2M921 361.5h1M951 361.5h2M292 362.5h1M922 362.5h3M948 362.5h3M291 363.5h1M925 363.5h4M945 363.5h3M290 364.5h1M929 364.5h4M943 364.5h2M289 365.5h1M933 365.5h4M940 365.5h3M288 366.5h1M937 366.5h3M287 367.5h1M285 368.5h2M284 369.5h1M283 370.5h1M282 371.5h1M281 372.5h1M280 373.5h1M279 374.5h1M278.5 375v2M277 377.5h1M276 378.5h1M275 379.5h1M274 380.5h1M273 381.5h1M272.5 382v2M271 384.5h1M270 385.5h1M269 386.5h1M268.5 387v2M267 389.5h1M266 390.5h1M265 391.5h1M264 392.5h1M263 393.5h1M262 394.5h1M261 395.5h1M260 396.5h1M259 397.5h1M258 398.5h1M257 399.5h1M255 400.5h2M254 401.5h1M253 402.5h1M251 403.5h2M250 404.5h1M249 405.5h1M247 406.5h2M246 407.5h1M245 408.5h1M243 409.5h2M242 410.5h1M241 411.5h1M240 412.5h1M239 413.5h1M237 414.5h2M236 415.5h1M235 416.5h1M234 417.5h1M233 418.5h1M232 419.5h1M231 420.5h1M230 421.5h1M229 422.5h1M228 423.5h1M227 424.5h1M226 425.5h1M225 426.5h1M224 427.5h1M223 428.5h1M222 429.5h1M221 430.5h1M220 431.5h1M219 432.5h1M217 433.5h2M215 434.5h2M212 435.5h3M210 436.5h2M208 437.5h2M206 438.5h2M204 439.5h2M201 440.5h3M199 441.5h2M196 442.5h3M194 443.5h2M192 444.5h2M191 445.5h1M189 446.5h2M187 447.5h2M186 448.5h1M185 449.5h1M184 450.5h1M183 451.5h1M181 452.5h2M180 453.5h1M179 454.5h1M178 455.5h1M176 456.5h2M175 457.5h1M173 458.5h2M171 459.5h2M170 460.5h1M169 461.5h1M167 462.5h2M166 463.5h1M165 464.5h1M163 465.5h2M161 466.5h2M159 467.5h2M156 468.5h3M154 469.5h2M152 470.5h2M2 471.5h2M150 471.5h2M4 472.5h2M148 472.5h2M6 473.5h2M137 473.5h11M8 474.5h2M135 474.5h2M10 475.5h2M132 475.5h3M12 476.5h2M130 476.5h2M14 477.5h2M129 477.5h1M16 478.5h2M127 478.5h2M18 479.5h2M126 479.5h1M20 480.5h3M125 480.5h1M23 481.5h2M123 481.5h2M25 482.5h10M122 482.5h1M35 483.5h2M120 483.5h2M37 484.5h1M119 484.5h1M38 485.5h1M117 485.5h2M39 486.5h2M115 486.5h2M41 487.5h1M114 487.5h1M42 488.5h1M112 488.5h2M43 489.5h2M111 489.5h1M45 490.5h2M109 490.5h2M47 491.5h1M107 491.5h2M48 492.5h2M103 492.5h4M50 493.5h1M97 493.5h6M51 494.5h2M95 494.5h2M53 495.5h1M92 495.5h3M54 496.5h1M89 496.5h3M55 497.5h2M87 497.5h2M57 498.5h1M84 498.5h3M58 499.5h3M81 499.5h3M61 500.5h4M77 500.5h4M65 501.5h12" fill="none" stroke="#ff0000" stroke-width="1"/>
<path d="M1242 74.5h1M1240 75.5h2M1238 76.5h2M1236 77.5h2M1234 78.5h2M1233 79.5h1M1232.5 80v2M1231 82.5h1M1230 83.5h1M1229 84.5h1M1228.5 85v2M1227 87.5h1M1226 88.5h1M1225.5 89v2M1224.5 91v2M1223.5 93v2M1222.5 95v2M1221.5 97v2M1220.5 99v2M1219.5 101v2M1218.5 103v2M1217.5 105v2M1216 107.5h1M1215.5 108v2M1214 110.5h1M1213.5 111v2M1212 113.5h1M1211.5 114v2M1210 116.5h1M1209.5 117v2M1208 119.5h1M1207.5 120v2M1206 122.5h1M1205.5 123v2M1204 125.5h1M1203.5 126v2M1202 128.5h1M1201.5 129v2M1200 131.5h1M1199 132.5h1M1198.5 133v2M1197 135.5h1M1196 136.5h1M1195.5 137v2M1193 139.5h2M1189 140.5h4M1186 141.5h3M1184 142.5h2M1182 143.5h2M1180 144.5h2M1178 145.5h2M1177.5 146v2M1176 148.5h1M1175 149.5h1M1174.5 150v2M1173 152.5h1M1172 153.5h1M1171.5 154v2M1170 156.5h1M1169 157.5h1M1168 158.5h1M1167 159.5h1M1166.5 160v2M1165 162.5h1M1164 163.5h1M1163 164.5h1M1162 165.5h1M1161 166.5h1M1159 167.5h2M1158 168.5h1M1157 169.5h1M1155 170.5h2M1154 171.5h1M1153 172.5h1M1151 173.5h2M1150 174.5h1M1149 175.5h1M1147 176.5h2M1145 177.5h2M1143 178.5h2M1140 179.5h3M1129 180.5h11M1127 181.5h2M1124 182.5h3M1122 183.5h2M1121.5 184v2M1120.5 186v2M1119.5 188v2M522 190.5h1M1118 190.5h1M521 191.5h1M523 191.5h1M1117.5 191v2M520 192.5h1M524.5 192v2M519 193.5h1M1116.5 193v2M518 194.5h1M525 194.5h1M517 195.5h1M526 195.5h1M1115.5 195v2M516 196.5h1M527 196.5h1M515 197.5h1M528.5 197v2M1114 197.5h1M514.5 198v2M1113.5 198v2M529 199.5h1M513.5 200v2M530 200.5h1M1112 200.5h1M531.5 201v2M1111 201.5h1M512.5 202v2M1110.5 202v2M532 203.5h1M511.5 204v3M533.5 204v2M1109 204.5h1M1108 205.5h1M534 206.5h1M1107.5 206v2M510.5 207v2M535.5 207v2M1106 208.5h1M509.5 209v3M536 209.5h1M1105 209.5h1M537.5 210v2M1104 210.5h1M1103 211.5h1M508.5 212v2M538 212.5h1M1101 212.5h2M539.5 213v2M1100 213.5h1M507.5 214v2M1099 214.5h1M540 215.5h1M1098 215.5h1M506.5 216v3M541 216.5h1M1097 216.5h1M542.5 217v2M1096.5 217v2M505.5 219v4M543 219.5h1M1095 219.5h1M544 220.5h1M1094 220.5h1M545.5 221v2M1093 221.5h1M1092.5 222v2M504.5 223v3M546 223.5h1M634 223.5h9M1066 223.5h5M547.5 224v2M632 224.5h2M643 224.5h1M1065 224.5h1M1071 224.5h5M1091 224.5h1M631 225.5h1M644.5 225v2M1063 225.5h2M1076 225.5h3M1089 225.5h2M503.5 226v3M548 226.5h1M629 226.5h2M1062 226.5h1M1079 226.5h2M1085 226.5h4M549.5 227v2M627 227.5h2M645 227.5h1M1061 227.5h1M1081 227.5h4M623 228.5h4M646 228.5h1M1059 228.5h2M502.5 229v4M550 229.5h1M618 229.5h5M647 229.5h1M1057 229.5h2M551.5 230v2M617 230.5h1M648.5 230v2M1055 230.5h2M616 231.5h1M1052 231.5h3M552 232.5h1M615 232.5h1M649 232.5h1M1050 232.5h2M501.5 233v3M553.5 233v2M613 233.5h2M650.5 233v2M1049 233.5h1M612 234.5h1M1048 234.5h1M554 235.5h1M611 235.5h1M651.5 235v2M1047 235.5h1M500.5 236v3M555.5 236v2M609 236.5h2M1045 236.5h2M605 237.5h4M652.5 237v3M1044 237.5h1M556 238.5h1M602 238.5h3M1043 238.5h1M499.5 239v4M557.5 239v2M601 239.5h1M1042 239.5h1M600 240.5h1M653.5 240v3M1041 240.5h1M558 241.5h1M599 241.5h1M1039 241.5h2M559.5 242v2M598.5 242v2M1038 242.5h1M498.5 243v3M654.5 243v2M994 243.5h5M1037 243.5h1M560 244.5h1M577 244.5h4M597 244.5h1M993.5 244v2M999 244.5h13M1035 244.5h2M561.5 245v2M575 245.5h2M581 245.5h4M596 245.5h1M655.5 245v3M1012 245.5h3M1034 245.5h1M497.5 246v3M572 246.5h3M585 246.5h6M595 246.5h1M992.5 246v2M1015 246.5h2M1033 246.5h1M562 247.5h10M591 247.5h4M1017 247.5h3M1031 247.5h2M656.5 248v3M991.5 248v2M1020 248.5h2M1030 248.5h1M496.5 249v3M1022 249.5h2M1029 249.5h1M990 250.5h1M1024 250.5h2M1027 250.5h2M657.5 251v2M989.5 251v2M1026 251.5h1M495.5 252v3M658.5 253v3M988.5 253v2M494.5 255v2M987.5 255v2M659.5 256v3M493.5 257v3M986.5 257v2M660.5 259v3M985.5 259v2M492.5 260v3M984.5 261v2M661.5 262v3M491.5 263v3M983.5 263v2M662.5 265v4M982.5 265v2M490.5 266v3M981.5 267v2M489.5 269v3M663.5 269v3M980.5 269v2M979.5 271v2M488.5 272v3M664.5 272v3M978.5 273v3M487.5 275v3M665.5 275v3M977.5 276v4M486.5 278v3M666.5 278v4M976.5 280v4M485.5 281v3M667.5 282v4M484.5 284v3M975.5 284v3M668.5 286v4M431 287.5h6M483.5 287v3M974.5 287v4M426 288.5h5M437 288.5h4M425 289.5h1M441 289.5h2M809 289.5h2M424 290.5h1M443 290.5h1M482.5 290v2M669.5 290v4M805 290.5h4M810 290.5h1M423 291.5h1M444 291.5h1M801 291.5h4M811.5 291v2M973.5 291v3M422.5 292v2M445 292.5h2M481.5 292v2M799 292.5h2M447 293.5h1M796 293.5h3M812.5 293v3M421 294.5h1M448 294.5h1M480.5 294v2M670.5 294v5M794 294.5h2M972.5 294v4M420 295.5h1M449 295.5h1M793 295.5h1M419 296.5h1M450 296.5h1M479.5 296v2M792 296.5h1M813.5 296v2M418 297.5h1M451 297.5h1M791 297.5h1M417 298.5h1M452 298.5h1M478 298.5h1M789 298.5h2M814.5 298v3M971.5 298v4M416 299.5h1M453 299.5h2M477.5 299v2M671.5 299v4M788 299.5h1M415 300.5h1M455 300.5h1M787 300.5h1M361 301.5h2M414.5 301v2M456 301.5h1M476.5 301v2M786 301.5h1M815.5 301v2M357 302.5h4M363 302.5h1M457 302.5h1M785 302.5h1M970.5 302v3M354 303.5h3M364 303.5h1M413 303.5h1M458 303.5h1M475.5 303v2M672.5 303v4M784 303.5h1M816.5 303v3M352 304.5h2M365 304.5h1M412 304.5h1M459 304.5h1M783 304.5h1M351 305.5h1M366 305.5h1M411 305.5h1M460 305.5h1M474 305.5h1M781 305.5h2M969.5 305v4M349 306.5h2M367 306.5h1M410 306.5h1M461 306.5h2M472 306.5h2M780 306.5h1M817.5 306v2M347 307.5h2M368 307.5h1M409 307.5h1M463 307.5h1M471 307.5h1M673.5 307v4M779 307.5h1M345 308.5h2M369 308.5h1M408 308.5h1M464 308.5h1M469 308.5h2M778 308.5h1M818.5 308v3M343 309.5h2M370 309.5h1M407 309.5h1M465 309.5h1M467 309.5h2M777 309.5h1M968.5 309v4M340 310.5h3M371 310.5h1M405 310.5h2M466 310.5h1M776.5 310v2M338 311.5h2M372 311.5h1M404 311.5h1M674.5 311v5M819.5 311v2M337 312.5h1M373 312.5h1M403 312.5h1M746 312.5h5M775 312.5h1M336 313.5h1M374 313.5h1M401 313.5h2M745 313.5h1M751 313.5h4M774 313.5h1M820.5 313v2M967.5 313v4M335 314.5h1M375 314.5h1M397 314.5h4M744 314.5h1M755 314.5h2M773 314.5h1M334 315.5h1M376 315.5h1M393 315.5h4M743 315.5h1M757 315.5h1M772.5 315v2M821.5 315v3M333 316.5h1M377 316.5h1M389 316.5h4M675.5 316v4M742.5 316v2M758 316.5h1M332 317.5h1M378 317.5h11M759 317.5h2M771 317.5h1M966.5 317v4M331 318.5h1M741 318.5h1M761 318.5h1M767 318.5h4M822.5 318v2M330 319.5h1M740 319.5h1M762 319.5h5M305 320.5h2M329 320.5h1M676.5 320v5M739 320.5h1M823.5 320v3M301 321.5h4M307 321.5h1M328.5 321v2M738 321.5h1M965.5 321v4M298 322.5h3M308 322.5h1M737.5 322v2M297 323.5h1M309 323.5h2M327 323.5h1M824.5 323v2M296 324.5h1M311 324.5h1M326 324.5h1M736 324.5h1M295 325.5h1M312 325.5h1M325 325.5h1M677.5 325v5M735.5 325v2M825.5 325v2M964.5 325v4M294 326.5h1M313 326.5h1M324.5 326v2M293 327.5h1M314 327.5h3M734 327.5h1M826.5 327v3M292 328.5h1M317 328.5h4M323 328.5h1M733.5 328v2M291 329.5h1M321 329.5h2M963.5 329v4M290 330.5h1M678.5 330v4M732 330.5h1M827.5 330v2M288 331.5h2M731.5 331v2M287 332.5h1M828.5 332v2M285 333.5h2M730 333.5h1M962.5 333v3M283 334.5h2M679.5 334v5M729.5 334v2M829.5 334v2M282 335.5h1M280 336.5h2M728.5 336v2M830.5 336v2M961.5 336v4M278 337.5h2M276 338.5h2M727.5 338v2M831.5 338v2M273 339.5h3M680.5 339v5M897 339.5h2M269 340.5h4M726.5 340v2M832.5 340v2M895 340.5h2M899 340.5h2M960.5 340v4M265 341.5h4M892 341.5h3M901 341.5h2M263 342.5h2M725.5 342v2M833.5 342v2M890 342.5h2M903 342.5h1M260 343.5h3M889 343.5h1M904 343.5h2M258 344.5h2M681.5 344v4M724.5 344v2M834 344.5h1M888 344.5h1M906 344.5h1M959.5 344v4M257.5 345v2M835 345.5h1M887 345.5h1M907.5 345v2M723.5 346v2M836.5 346v2M886 346.5h1M256 347.5h1M885 347.5h1M908.5 347v2M255 348.5h1M682.5 348v4M722.5 348v2M837 348.5h1M884 348.5h1M958.5 348v4M254.5 349v2M838 349.5h1M883 349.5h1M909.5 349v2M721.5 350v3M839 350.5h1M882 350.5h1M253 351.5h1M840.5 351v2M880 351.5h2M910 351.5h1M252 352.5h1M683.5 352v3M879 352.5h1M911.5 352v2M957.5 352v4M251.5 353v2M720.5 353v3M841 353.5h1M877 353.5h2M842 354.5h1M875 354.5h2M912.5 354v2M250 355.5h1M684.5 355v3M843.5 355v2M874 355.5h1M249.5 356v2M719.5 356v3M872 356.5h2M913.5 356v2M956.5 356v4M844.5 357v2M870 357.5h2M248 358.5h1M685.5 358v3M868 358.5h2M914 358.5h1M247.5 359v2M718.5 359v2M845.5 359v2M866 359.5h2M915.5 359v2M864 360.5h2M955.5 360v4M246 361.5h1M686.5 361v3M717.5 361v3M846 361.5h1M862 361.5h2M916.5 361v2M245.5 362v2M847.5 362v2M860 362.5h2M858 363.5h2M917.5 363v2M244 364.5h1M687.5 364v3M716.5 364v3M848.5 364v2M856 364.5h2M954.5 364v3M243.5 365v2M855 365.5h1M918 365.5h1M849.5 366v2M853 366.5h2M919.5 366v2M242.5 367v2M688.5 367v3M715.5 367v3M851 367.5h2M953.5 367v2M850 368.5h1M920.5 368v2M241.5 369v2M952.5 369v3M689.5 370v3M714.5 370v2M921.5 370v2M240.5 371v2M713.5 372v2M922 372.5h1M951.5 372v2M239.5 373v2M690.5 373v2M923.5 373v2M712.5 374v2M950.5 374v3M238.5 375v3M691.5 375v2M924 375.5h1M711.5 376v2M925.5 376v2M692.5 377v2M949.5 377v2M237.5 378v2M710.5 378v2M926 378.5h1M693 379.5h1M927.5 379v2M948.5 379v3M236.5 380v2M694.5 380v2M709.5 380v2M928 381.5h1M235.5 382v2M695 382.5h1M708.5 382v2M929.5 382v2M947.5 382v2M696.5 383v2M234.5 384v3M707.5 384v2M930 384.5h1M946.5 384v2M697.5 385v2M931.5 385v2M703 386.5h4M945.5 386v2M233.5 387v2M698 387.5h5M932.5 387v2M944 388.5h1M232.5 389v2M933 389.5h1M943.5 389v2M934.5 390v2M231.5 391v2M942 391.5h1M935 392.5h1M941.5 392v2M230.5 393v3M936.5 393v2M940 394.5h1M937.5 395v2M939.5 395v2M229.5 396v2M938 397.5h1M228.5 398v2M227.5 400v2M226.5 402v2M225.5 404v2M224.5 406v2M223.5 408v2M222 410.5h1M221.5 411v2M220.5 413v2M219.5 415v2M218 417.5h1M216 418.5h2M214 419.5h2M212 420.5h2M209 421.5h3M207 422.5h2M204 423.5h3M202 424.5h2M201 425.5h1M199 426.5h2M198 427.5h1M197 428.5h1M195 429.5h2M194 430.5h1M193 431.5h1M191 432.5h2M190 433.5h1M189 434.5h1M187 435.5h2M186 436.5h1M185 437.5h1M183 438.5h2M182 439.5h1M153 440.5h3M181 440.5h1M151 441.5h2M156 441.5h2M179 441.5h2M148 442.5h3M158 442.5h2M169 442.5h10M145 443.5h3M160 443.5h2M165 443.5h4M141 444.5h4M162 444.5h3M138 445.5h3M137 446.5h1M135 447.5h2M134 448.5h1M133 449.5h1M131 450.5h2M130 451.5h1M129 452.5h1M128 453.5h1M127 454.5h1M125 455.5h2M124 456.5h1M123 457.5h1M122 458.5h1M121 459.5h1M120.5 460v2M119 462.5h1M118 463.5h1M117 464.5h1M116.5 465v2M115 467.5h1M114 468.5h1M113.5 469v2M112 471.5h1M111.5 472v2M110 474.5h1M109.5 475v2M108 477.5h1M107.5 478v2M106 480.5h1M105 481.5h1M104 482.5h1M103 483.5h1M102.5 484v2M101 486.5h1M100 487.5h1M55 488.5h4M99 488.5h1M49 489.5h6M59 489.5h2M98 489.5h1M45 490.5h4M61 490.5h2M97 490.5h1M41 491.5h4M63 491.5h1M96 491.5h1M39 492.5h2M64 492.5h2M95 492.5h1M36 493.5h3M66 493.5h1M94 493.5h1M34 494.5h2M67.5 494v2M93 494.5h1M33 495.5h1M92 495.5h1M32 496.5h1M68.5 496v2M91 496.5h1M31 497.5h1M90 497.5h1M29 498.5h2M69 498.5h1M89 498.5h1M28 499.5h1M70.5 499v2M87 499.5h2M27 500.5h1M86 500.5h1M25 501.5h2M71 501.5h1M85 501.5h1M21 502.5h4M72.5 502v2M83 502.5h2M15 503.5h6M81 503.5h2M7 504.5h8M73.5 504v2M79 504.5h2M2 505.5h5M76 505.5h3M74 506.5h2" fill="none" stroke="#ffa500" stroke-width="1"/>
</g>
<path d="M5 30 L12 30 L8.5 34 Z" fill="#000"/>
<text x="18.1" y="34.4" textLength="64.1" lengthAdjust="spacingAndGlyphs">AUDUSD,Daily</text>
<text x="89.4" y="34.4" textLength="32.3" lengthAdjust="spacingAndGlyphs">0.75387</text>
<text x="125.4" y="34.4" textLength="32.3" lengthAdjust="spacingAndGlyphs">0.75707</text>
<text x="161.4" y="34.4" textLength="32.3" lengthAdjust="spacingAndGlyphs">0.75360</text>
<text x="197.4" y="34.4" textLength="32.3" lengthAdjust="spacingAndGlyphs">0.75477</text>
<path d="M1257 24 L1266.5 24 L1261.7 29 Z" fill="#c0c0c0" shape-rendering="auto"/>
<rect x="1579" y="52" width="2" height="1" fill="#000"/>
<text x="1584" y="56" textLength="32.6" lengthAdjust="spacingAndGlyphs">0.75725</text>
<rect x="1579" y="85" width="2" height="1" fill="#000"/>
<text x="1584" y="89" textLength="32.6" lengthAdjust="spacingAndGlyphs">0.75215</text>
<rect x="1579" y="118" width="2" height="1" fill="#000"/>
<text x="1584" y="122" textLength="32.6" lengthAdjust="spacingAndGlyphs">0.74690</text>
<rect x="1579" y="151" width="2" height="1" fill="#000"/>
<text x="1584" y="155" textLength="32.6" lengthAdjust="spacingAndGlyphs">0.74180</text>
<rect x="1579" y="184" width="2" height="1" fill="#000"/>
<text x="1584" y="188" textLength="32.6" lengthAdjust="spacingAndGlyphs">0.73655</text>
<rect x="1579" y="217" width="2" height="1" fill="#000"/>
<text x="1584" y="221" textLength="32.6" lengthAdjust="spacingAndGlyphs">0.73145</text>
<rect x="1579" y="250" width="2" height="1" fill="#000"/>
<text x="1584" y="254" textLength="32.6" lengthAdjust="spacingAndGlyphs">0.72635</text>
<rect x="1579" y="283" width="2" height="1" fill="#000"/>
<text x="1584" y="287" textLength="32.6" lengthAdjust="spacingAndGlyphs">0.72110</text>
<rect x="1579" y="316" width="2" height="1" fill="#000"/>
<text x="1584" y="320" textLength="32.6" lengthAdjust="spacingAndGlyphs">0.71600</text>
<rect x="1579" y="349" width="2" height="1" fill="#000"/>
<text x="1584" y="353" textLength="32.6" lengthAdjust="spacingAndGlyphs">0.71075</text>
<rect x="1579" y="382" width="2" height="1" fill="#000"/>
<text x="1584" y="386" textLength="32.6" lengthAdjust="spacingAndGlyphs">0.70565</text>
<rect x="1579" y="415" width="2" height="1" fill="#000"/>
<text x="1584" y="419" textLength="32.6" lengthAdjust="spacingAndGlyphs">0.70040</text>
<rect x="1579" y="448" width="2" height="1" fill="#000"/>
<text x="1584" y="452" textLength="32.6" lengthAdjust="spacingAndGlyphs">0.69530</text>
<rect x="1579" y="481" width="2" height="1" fill="#000"/>
<text x="1584" y="485" textLength="32.6" lengthAdjust="spacingAndGlyphs">0.69005</text>
<rect x="1579" y="514" width="2" height="1" fill="#000"/>
<text x="1584" y="518" textLength="32.6" lengthAdjust="spacingAndGlyphs">0.68495</text>
<rect x="1579" y="547" width="2" height="1" fill="#000"/>
<text x="1584" y="551" textLength="32.6" lengthAdjust="spacingAndGlyphs">0.67985</text>
<rect x="2" y="33" width="1576" height="2" fill="#ff0000"/>
<rect x="1" y="31" width="6" height="6" fill="#ff0000"/><rect x="3" y="33" width="2" height="2" fill="#fff"/>
<rect x="1572" y="31" width="6" height="6" fill="#ff0000"/><rect x="1574" y="33" width="2" height="2" fill="#fff"/>
<rect x="1580" y="28" width="40" height="11" fill="#ff0000"/>
<text class="w" x="1584" y="37" textLength="32.6" lengthAdjust="spacingAndGlyphs">0.76004</text>
<rect x="2" y="96" width="1576" height="2" fill="#ff0000"/>
<rect x="1" y="94" width="6" height="6" fill="#ff0000"/><rect x="3" y="96" width="2" height="2" fill="#fff"/>
<rect x="1572" y="94" width="6" height="6" fill="#ff0000"/><rect x="1574" y="96" width="2" height="2" fill="#fff"/>
<rect x="1580" y="91" width="40" height="11" fill="#ff0000"/>
<text class="w" x="1584" y="100" textLength="32.6" lengthAdjust="spacingAndGlyphs">0.75019</text>
<rect x="2" y="160" width="1576" height="2" fill="#00ff00"/>
<rect x="1" y="158" width="6" height="6" fill="#00ff00"/><rect x="3" y="160" width="2" height="2" fill="#fff"/>
<rect x="1572" y="158" width="6" height="6" fill="#00ff00"/><rect x="1574" y="160" width="2" height="2" fill="#fff"/>
<rect x="1580" y="155" width="40" height="11" fill="#00ff00"/>
<text class="w" x="1584" y="164" textLength="32.6" lengthAdjust="spacingAndGlyphs">0.74019</text>
<rect x="2" y="224" width="1576" height="2" fill="#0000ff"/>
<rect x="1" y="222" width="6" height="6" fill="#0000ff"/><rect x="3" y="224" width="2" height="2" fill="#fff"/>
<rect x="1572" y="222" width="6" height="6" fill="#0000ff"/><rect x="1574" y="224" width="2" height="2" fill="#fff"/>
<rect x="1580" y="219" width="40" height="11" fill="#0000ff"/>
<text class="w" x="1584" y="228" textLength="32.6" lengthAdjust="spacingAndGlyphs">0.73023</text>
<rect x="2" y="288" width="1576" height="2" fill="#0000ff"/>
<rect x="1" y="286" width="6" height="6" fill="#0000ff"/><rect x="3" y="288" width="2" height="2" fill="#fff"/>
<rect x="1572" y="286" width="6" height="6" fill="#0000ff"/><rect x="1574" y="288" width="2" height="2" fill="#fff"/>
<rect x="1580" y="283" width="40" height="11" fill="#0000ff"/>
<text class="w" x="1584" y="292" textLength="32.6" lengthAdjust="spacingAndGlyphs">0.72026</text>
<rect x="1580" y="63" width="40" height="11" fill="#000"/>
<text class="w" x="1584" y="72" textLength="32.6" lengthAdjust="spacingAndGlyphs">0.75477</text>
<line x1="2" y1="582.5" x2="1578" y2="582.5" stroke="#c0c0c0" stroke-width="1" stroke-dasharray="3 3" stroke-dashoffset="-1"/>
<line x1="2" y1="619.5" x2="1578" y2="619.5" stroke="#c0c0c0" stroke-width="1" stroke-dasharray="3 3" stroke-dashoffset="-1"/>
<path d="M233 575.5h4M229 576.5h4M237 576.5h4M505 576.5h4M226 577.5h3M241 577.5h2M501 577.5h4M509 577.5h4M225 578.5h1M243 578.5h1M490 578.5h11M513 578.5h2M1239 578.5h4M224.5 579v2M244 579.5h1M273 579.5h10M489 579.5h1M515 579.5h1M1209 579.5h30M245 580.5h1M271 580.5h2M283 580.5h2M488 580.5h1M516.5 580v2M1205 580.5h4M223 581.5h1M246 581.5h1M268 581.5h3M285 581.5h1M487 581.5h1M1202 581.5h3M222 582.5h1M247 582.5h1M265 582.5h3M286 582.5h1M330 582.5h9M485 582.5h2M517 582.5h1M1200 582.5h2M221 583.5h1M248 583.5h1M263 583.5h2M287 583.5h2M297 583.5h3M329 583.5h1M339 583.5h1M484 583.5h1M518 583.5h1M1154 583.5h3M1198 583.5h2M220.5 584v2M249 584.5h1M260 584.5h3M289 584.5h1M293 584.5h4M300 584.5h3M327 584.5h2M340 584.5h1M417 584.5h10M483 584.5h1M519 584.5h1M1113 584.5h4M1153 584.5h1M1157 584.5h4M1167 584.5h12M1196 584.5h2M191 585.5h5M250 585.5h10M290 585.5h3M303 585.5h2M326 585.5h1M341 585.5h1M415 585.5h2M427.5 585v2M482 585.5h1M520.5 585v2M985 585.5h3M1034 585.5h2M1111 585.5h2M1117 585.5h4M1151 585.5h2M1161 585.5h6M1179 585.5h2M1194 585.5h2M121 586.5h6M186 586.5h5M196 586.5h2M219 586.5h1M305 586.5h2M325 586.5h1M342.5 586v2M412 586.5h3M480 586.5h2M981 586.5h4M988 586.5h2M1033 586.5h1M1036 586.5h3M1049 586.5h2M1108 586.5h3M1121 586.5h3M1150 586.5h1M1181 586.5h1M1192 586.5h2M33 587.5h2M119 587.5h2M127 587.5h8M170 587.5h2M184 587.5h2M198 587.5h2M215 587.5h4M307 587.5h2M323 587.5h2M410 587.5h2M428 587.5h1M478 587.5h2M521 587.5h1M962 587.5h19M990 587.5h2M1031 587.5h2M1039 587.5h2M1045 587.5h4M1051 587.5h1M1103 587.5h5M1124 587.5h3M1149 587.5h1M1182 587.5h1M1191 587.5h1M31 588.5h2M35 588.5h1M116 588.5h3M135 588.5h8M168 588.5h2M172 588.5h3M182 588.5h2M200 588.5h2M207 588.5h8M309 588.5h1M322 588.5h1M343 588.5h1M408 588.5h2M429 588.5h1M476 588.5h2M522 588.5h1M961 588.5h1M992 588.5h2M1030 588.5h1M1041 588.5h4M1052 588.5h1M1095 588.5h8M1127 588.5h2M1147 588.5h2M1183 588.5h2M1189 588.5h2M28 589.5h3M36 589.5h1M111 589.5h5M143 589.5h13M167 589.5h1M175 589.5h2M180 589.5h2M202 589.5h5M310 589.5h1M320 589.5h2M344 589.5h1M406 589.5h2M430.5 589v2M474 589.5h2M523 589.5h1M960 589.5h1M994 589.5h5M1029 589.5h1M1053 589.5h1M1090 589.5h5M1129 589.5h4M1145 589.5h2M1185 589.5h1M1187 589.5h2M26 590.5h2M37 590.5h1M103 590.5h8M156 590.5h3M165 590.5h2M177 590.5h3M311 590.5h2M318 590.5h2M345 590.5h1M404 590.5h2M473 590.5h1M524 590.5h1M618 590.5h1M959 590.5h1M999 590.5h14M1027 590.5h2M1054 590.5h1M1066 590.5h9M1089 590.5h1M1133 590.5h4M1141 590.5h4M1186 590.5h1M24 591.5h2M38 591.5h1M95 591.5h8M159 591.5h2M163 591.5h2M313 591.5h1M316 591.5h2M346 591.5h3M399 591.5h5M431 591.5h1M471 591.5h2M525 591.5h2M616 591.5h2M619 591.5h1M958.5 591v2M1013 591.5h4M1023 591.5h4M1055 591.5h1M1064 591.5h2M1075 591.5h2M1087 591.5h2M1137 591.5h4M23 592.5h1M39 592.5h1M89 592.5h6M161 592.5h2M314 592.5h2M349 592.5h4M359 592.5h8M375 592.5h8M391 592.5h8M432 592.5h1M470 592.5h1M527 592.5h1M546 592.5h2M614 592.5h2M620 592.5h1M1017 592.5h6M1056 592.5h1M1062 592.5h2M1077 592.5h2M1086 592.5h1M21 593.5h2M40 593.5h1M85 593.5h4M353 593.5h6M367 593.5h8M383 593.5h8M433.5 593v2M469 593.5h1M528 593.5h1M544 593.5h2M548 593.5h3M612 593.5h2M621 593.5h2M957 593.5h1M1057 593.5h1M1060 593.5h2M1079 593.5h1M1085 593.5h1M7 594.5h8M19 594.5h2M41 594.5h1M82 594.5h3M467 594.5h2M529 594.5h1M542 594.5h2M551 594.5h2M601 594.5h11M623 594.5h1M633 594.5h4M778 594.5h5M956 594.5h1M1058 594.5h2M1080 594.5h2M1083 594.5h2M2 595.5h5M15 595.5h4M42 595.5h5M80 595.5h2M434 595.5h2M463 595.5h4M530 595.5h5M540 595.5h2M553 595.5h2M575 595.5h8M599 595.5h2M624 595.5h1M631 595.5h2M637 595.5h4M777 595.5h1M783 595.5h5M946 595.5h5M955 595.5h1M1082 595.5h1M47 596.5h8M63 596.5h6M78 596.5h2M436 596.5h2M457 596.5h6M535 596.5h5M555 596.5h2M570 596.5h5M583 596.5h8M596 596.5h3M625 596.5h1M628 596.5h3M641 596.5h2M776 596.5h1M788 596.5h3M945.5 596v2M951 596.5h4M55 597.5h8M69 597.5h4M76 597.5h2M438 597.5h2M453 597.5h4M557 597.5h1M568 597.5h2M591 597.5h5M626 597.5h2M643.5 597v2M775 597.5h1M791 597.5h2M73 598.5h3M440 598.5h2M447 598.5h6M558 598.5h1M567 598.5h1M774.5 598v2M793 598.5h3M944.5 598v2M442 599.5h5M559 599.5h2M565 599.5h2M644 599.5h1M796 599.5h2M561 600.5h1M563 600.5h2M645 600.5h1M721 600.5h3M745 600.5h3M773 600.5h1M798 600.5h2M897 600.5h2M943.5 600v2M562 601.5h1M646.5 601v2M719 601.5h2M724 601.5h2M743 601.5h2M748 601.5h2M772 601.5h1M800 601.5h2M895 601.5h2M899 601.5h1M716 602.5h3M726 602.5h2M740 602.5h3M750 602.5h2M771 602.5h1M802 602.5h9M881 602.5h6M892 602.5h3M900 602.5h1M942.5 602v2M647 603.5h1M714 603.5h2M728 603.5h2M735 603.5h5M752 603.5h2M767 603.5h4M811 603.5h1M877 603.5h4M887 603.5h5M901 603.5h1M648 604.5h1M713 604.5h1M730 604.5h5M754 604.5h13M812 604.5h1M858 604.5h5M871 604.5h6M902.5 604v2M941.5 604v2M649.5 605v2M711 605.5h2M813 605.5h1M857 605.5h1M863 605.5h8M710 606.5h1M814 606.5h1M856 606.5h1M903 606.5h1M940.5 606v2M650 607.5h2M709 607.5h1M815 607.5h1M855 607.5h1M904 607.5h1M652 608.5h2M707 608.5h2M816 608.5h1M854 608.5h1M905 608.5h1M939.5 608v2M654 609.5h2M706 609.5h1M817 609.5h1M831 609.5h13M853 609.5h1M906 609.5h1M656 610.5h2M704 610.5h2M818 610.5h13M844 610.5h3M852 610.5h1M907 610.5h2M935 610.5h4M658 611.5h1M703 611.5h1M847 611.5h2M851 611.5h1M909 611.5h2M927 611.5h8M659 612.5h2M701 612.5h2M849 612.5h2M911 612.5h1M921 612.5h6M661 613.5h2M699 613.5h2M912 613.5h2M917 613.5h4M663 614.5h1M698 614.5h1M914 614.5h3M664 615.5h2M697 615.5h1M666 616.5h2M695 616.5h2M668 617.5h2M694 617.5h1M670 618.5h2M693 618.5h1M672 619.5h2M691 619.5h2M674 620.5h5M687 620.5h4M679 621.5h8" fill="none" stroke="#1e90ff" stroke-width="1"/>
<text x="6.2" y="565" textLength="67.5" lengthAdjust="spacingAndGlyphs">RSI(14) 73.8643</text>
<text x="1582.2" y="563" textLength="14.7" lengthAdjust="spacingAndGlyphs">100</text>
<text x="1582.2" y="586" textLength="9.8" lengthAdjust="spacingAndGlyphs">70</text>
<text x="1582.2" y="623" textLength="9.8" lengthAdjust="spacingAndGlyphs">30</text>
<text x="1582.2" y="645" textLength="4.9" lengthAdjust="spacingAndGlyphs">0</text>
<rect x="2" y="674" width="1" height="41" fill="#c0c0c0"/>
<rect x="10" y="677" width="1" height="38" fill="#c0c0c0"/>
<rect x="18" y="681" width="1" height="34" fill="#c0c0c0"/>
<rect x="26" y="682" width="1" height="33" fill="#c0c0c0"/>
<rect x="34" y="681" width="1" height="34" fill="#c0c0c0"/>
<rect x="42" y="684" width="1" height="31" fill="#c0c0c0"/>
<rect x="50" y="687" width="1" height="28" fill="#c0c0c0"/>
<rect x="58" y="690" width="1" height="25" fill="#c0c0c0"/>
<rect x="66" y="692" width="1" height="23" fill="#c0c0c0"/>
<rect x="74" y="695" width="1" height="20" fill="#c0c0c0"/>
<rect x="82" y="696" width="1" height="19" fill="#c0c0c0"/>
<rect x="90" y="695" width="1" height="20" fill="#c0c0c0"/>
<rect x="98" y="695" width="1" height="20" fill="#c0c0c0"/>
<rect x="106" y="694" width="1" height="21" fill="#c0c0c0"/>
<rect x="114" y="694" width="1" height="21" fill="#c0c0c0"/>
<rect x="122" y="693" width="1" height="22" fill="#c0c0c0"/>
<rect x="130" y="692" width="1" height="23" fill="#c0c0c0"/>
<rect x="138" y="692" width="1" height="23" fill="#c0c0c0"/>
<rect x="146" y="692" width="1" height="23" fill="#c0c0c0"/>
<rect x="154" y="693" width="1" height="22" fill="#c0c0c0"/>
<rect x="162" y="694" width="1" height="21" fill="#c0c0c0"/>
<rect x="170" y="694" width="1" height="21" fill="#c0c0c0"/>
<rect x="178" y="694" width="1" height="21" fill="#c0c0c0"/>
<rect x="186" y="693" width="1" height="22" fill="#c0c0c0"/>
<rect x="194" y="693" width="1" height="22" fill="#c0c0c0"/>
<rect x="202" y="693" width="1" height="22" fill="#c0c0c0"/>
<rect x="210" y="693" width="1" height="22" fill="#c0c0c0"/>
<rect x="218" y="694" width="1" height="21" fill="#c0c0c0"/>
<rect x="226" y="690" width="1" height="25" fill="#c0c0c0"/>
<rect x="234" y="685" width="1" height="30" fill="#c0c0c0"/>
<rect x="242" y="683" width="1" height="32" fill="#c0c0c0"/>
<rect x="250" y="683" width="1" height="32" fill="#c0c0c0"/>
<rect x="258" y="683" width="1" height="32" fill="#c0c0c0"/>
<rect x="266" y="682" width="1" height="33" fill="#c0c0c0"/>
<rect x="274" y="681" width="1" height="34" fill="#c0c0c0"/>
<rect x="282" y="680" width="1" height="35" fill="#c0c0c0"/>
<rect x="290" y="680" width="1" height="35" fill="#c0c0c0"/>
<rect x="298" y="681" width="1" height="34" fill="#c0c0c0"/>
<rect x="306" y="682" width="1" height="33" fill="#c0c0c0"/>
<rect x="314" y="684" width="1" height="31" fill="#c0c0c0"/>
<rect x="322" y="685" width="1" height="30" fill="#c0c0c0"/>
<rect x="330" y="683" width="1" height="32" fill="#c0c0c0"/>
<rect x="338" y="682" width="1" height="33" fill="#c0c0c0"/>
<rect x="346" y="684" width="1" height="31" fill="#c0c0c0"/>
<rect x="354" y="686" width="1" height="29" fill="#c0c0c0"/>
<rect x="362" y="688" width="1" height="27" fill="#c0c0c0"/>
<rect x="370" y="689" width="1" height="26" fill="#c0c0c0"/>
<rect x="378" y="691" width="1" height="24" fill="#c0c0c0"/>
<rect x="386" y="692" width="1" height="23" fill="#c0c0c0"/>
<rect x="394" y="693" width="1" height="22" fill="#c0c0c0"/>
<rect x="402" y="694" width="1" height="21" fill="#c0c0c0"/>
<rect x="410" y="694" width="1" height="21" fill="#c0c0c0"/>
<rect x="418" y="692" width="1" height="23" fill="#c0c0c0"/>
<rect x="426" y="692" width="1" height="23" fill="#c0c0c0"/>
<rect x="434" y="694" width="1" height="21" fill="#c0c0c0"/>
<rect x="442" y="696" width="1" height="19" fill="#c0c0c0"/>
<rect x="450" y="699" width="1" height="16" fill="#c0c0c0"/>
<rect x="458" y="700" width="1" height="15" fill="#c0c0c0"/>
<rect x="466" y="701" width="1" height="14" fill="#c0c0c0"/>
<rect x="474" y="700" width="1" height="15" fill="#c0c0c0"/>
<rect x="482" y="698" width="1" height="17" fill="#c0c0c0"/>
<rect x="490" y="693" width="1" height="22" fill="#c0c0c0"/>
<rect x="498" y="689" width="1" height="26" fill="#c0c0c0"/>
<rect x="506" y="684" width="1" height="31" fill="#c0c0c0"/>
<rect x="514" y="682" width="1" height="33" fill="#c0c0c0"/>
<rect x="522" y="683" width="1" height="32" fill="#c0c0c0"/>
<rect x="530" y="686" width="1" height="29" fill="#c0c0c0"/>
<rect x="538" y="689" width="1" height="26" fill="#c0c0c0"/>
<rect x="546" y="690" width="1" height="25" fill="#c0c0c0"/>
<rect x="554" y="692" width="1" height="23" fill="#c0c0c0"/>
<rect x="562" y="696" width="1" height="19" fill="#c0c0c0"/>
<rect x="570" y="697" width="1" height="18" fill="#c0c0c0"/>
<rect x="578" y="698" width="1" height="17" fill="#c0c0c0"/>
<rect x="586" y="699" width="1" height="16" fill="#c0c0c0"/>
<rect x="594" y="700" width="1" height="15" fill="#c0c0c0"/>
<rect x="602" y="700" width="1" height="15" fill="#c0c0c0"/>
<rect x="610" y="701" width="1" height="14" fill="#c0c0c0"/>
<rect x="618" y="699" width="1" height="16" fill="#c0c0c0"/>
<rect x="626" y="701" width="1" height="14" fill="#c0c0c0"/>
<rect x="634" y="701" width="1" height="14" fill="#c0c0c0"/>
<rect x="642" y="701" width="1" height="14" fill="#c0c0c0"/>
<rect x="650" y="706" width="1" height="9" fill="#c0c0c0"/>
<rect x="658" y="711" width="1" height="4" fill="#c0c0c0"/>
<rect x="666" y="714" width="1" height="5" fill="#c0c0c0"/>
<rect x="674" y="714" width="1" height="13" fill="#c0c0c0"/>
<rect x="682" y="714" width="1" height="20" fill="#c0c0c0"/>
<rect x="690" y="714" width="1" height="25" fill="#c0c0c0"/>
<rect x="698" y="714" width="1" height="27" fill="#c0c0c0"/>
<rect x="706" y="714" width="1" height="26" fill="#c0c0c0"/>
<rect x="714" y="714" width="1" height="23" fill="#c0c0c0"/>
<rect x="722" y="714" width="1" height="20" fill="#c0c0c0"/>
<rect x="730" y="714" width="1" height="18" fill="#c0c0c0"/>
<rect x="738" y="714" width="1" height="17" fill="#c0c0c0"/>
<rect x="746" y="714" width="1" height="14" fill="#c0c0c0"/>
<rect x="754" y="714" width="1" height="13" fill="#c0c0c0"/>
<rect x="762" y="714" width="1" height="13" fill="#c0c0c0"/>
<rect x="770" y="714" width="1" height="12" fill="#c0c0c0"/>
<rect x="778" y="714" width="1" height="8" fill="#c0c0c0"/>
<rect x="786" y="714" width="1" height="4" fill="#c0c0c0"/>
<rect x="794" y="714" width="1" height="3" fill="#c0c0c0"/>
<rect x="802" y="714" width="1" height="3" fill="#c0c0c0"/>
<rect x="810" y="714" width="1" height="3" fill="#c0c0c0"/>
<rect x="818" y="714" width="1" height="7" fill="#c0c0c0"/>
<rect x="826" y="714" width="1" height="10" fill="#c0c0c0"/>
<rect x="834" y="714" width="1" height="12" fill="#c0c0c0"/>
<rect x="842" y="714" width="1" height="13" fill="#c0c0c0"/>
<rect x="850" y="714" width="1" height="15" fill="#c0c0c0"/>
<rect x="858" y="714" width="1" height="14" fill="#c0c0c0"/>
<rect x="866" y="714" width="1" height="14" fill="#c0c0c0"/>
<rect x="874" y="714" width="1" height="13" fill="#c0c0c0"/>
<rect x="882" y="714" width="1" height="11" fill="#c0c0c0"/>
<rect x="890" y="714" width="1" height="11" fill="#c0c0c0"/>
<rect x="898" y="714" width="1" height="9" fill="#c0c0c0"/>
<rect x="906" y="714" width="1" height="11" fill="#c0c0c0"/>
<rect x="914" y="714" width="1" height="15" fill="#c0c0c0"/>
<rect x="922" y="714" width="1" height="17" fill="#c0c0c0"/>
<rect x="930" y="714" width="1" height="18" fill="#c0c0c0"/>
<rect x="938" y="714" width="1" height="18" fill="#c0c0c0"/>
<rect x="946" y="714" width="1" height="13" fill="#c0c0c0"/>
<rect x="954" y="714" width="1" height="9" fill="#c0c0c0"/>
<rect x="962" y="714" width="1" height="2" fill="#c0c0c0"/>
<rect x="970" y="709" width="1" height="6" fill="#c0c0c0"/>
<rect x="978" y="704" width="1" height="11" fill="#c0c0c0"/>
<rect x="986" y="699" width="1" height="16" fill="#c0c0c0"/>
<rect x="994" y="697" width="1" height="18" fill="#c0c0c0"/>
<rect x="1002" y="695" width="1" height="20" fill="#c0c0c0"/>
<rect x="1010" y="695" width="1" height="20" fill="#c0c0c0"/>
<rect x="1018" y="695" width="1" height="20" fill="#c0c0c0"/>
<rect x="1026" y="694" width="1" height="21" fill="#c0c0c0"/>
<rect x="1034" y="692" width="1" height="23" fill="#c0c0c0"/>
<rect x="1042" y="691" width="1" height="24" fill="#c0c0c0"/>
<rect x="1050" y="690" width="1" height="25" fill="#c0c0c0"/>
<rect x="1058" y="691" width="1" height="24" fill="#c0c0c0"/>
<rect x="1066" y="691" width="1" height="24" fill="#c0c0c0"/>
<rect x="1074" y="691" width="1" height="24" fill="#c0c0c0"/>
<rect x="1082" y="693" width="1" height="22" fill="#c0c0c0"/>
<rect x="1090" y="692" width="1" height="23" fill="#c0c0c0"/>
<rect x="1098" y="691" width="1" height="24" fill="#c0c0c0"/>
<rect x="1106" y="690" width="1" height="25" fill="#c0c0c0"/>
<rect x="1114" y="688" width="1" height="27" fill="#c0c0c0"/>
<rect x="1122" y="687" width="1" height="28" fill="#c0c0c0"/>
<rect x="1130" y="688" width="1" height="27" fill="#c0c0c0"/>
<rect x="1138" y="689" width="1" height="26" fill="#c0c0c0"/>
<rect x="1146" y="689" width="1" height="26" fill="#c0c0c0"/>
<rect x="1154" y="687" width="1" height="28" fill="#c0c0c0"/>
<rect x="1162" y="686" width="1" height="29" fill="#c0c0c0"/>
<rect x="1170" y="685" width="1" height="30" fill="#c0c0c0"/>
<rect x="1178" y="685" width="1" height="30" fill="#c0c0c0"/>
<rect x="1186" y="686" width="1" height="29" fill="#c0c0c0"/>
<rect x="1194" y="685" width="1" height="30" fill="#c0c0c0"/>
<rect x="1202" y="683" width="1" height="32" fill="#c0c0c0"/>
<rect x="1210" y="681" width="1" height="34" fill="#c0c0c0"/>
<rect x="1218" y="679" width="1" height="36" fill="#c0c0c0"/>
<rect x="1226" y="678" width="1" height="37" fill="#c0c0c0"/>
<rect x="1234" y="678" width="1" height="37" fill="#c0c0c0"/>
<rect x="1242" y="678" width="1" height="37" fill="#c0c0c0"/>
<path d="M2 656.5h2M4 657.5h1M8 658.5h1M9 659.5h2M14 661.5h2M16 662.5h1M20 664.5h2M22 665.5h1M26 667.5h2M28 668.5h1M32 670.5h2M34 671.5h1M38 672.5h1M39 673.5h2M44 675.5h3M50 677.5h2M52 678.5h1M56 679.5h1M57 680.5h2M62 681.5h1M1239 681.5h2M63 682.5h2M296 682.5h3M302 682.5h3M308 682.5h3M314 682.5h3M320 682.5h3M326 682.5h3M332 682.5h3M338 682.5h3M344 682.5h3M350 682.5h1M1232 682.5h3M1238 682.5h1M290 683.5h3M351 683.5h2M356 683.5h3M1226 683.5h3M68 684.5h3M285 684.5h2M362 684.5h3M1215 684.5h2M1220 684.5h3M279 685.5h2M284 685.5h1M368 685.5h3M374 685.5h1M1208 685.5h3M1214 685.5h1M74 686.5h3M272 686.5h3M278 686.5h1M375 686.5h2M380 686.5h3M1202 686.5h3M80 687.5h1M266 687.5h3M386 687.5h3M554 687.5h3M1178 687.5h3M1184 687.5h3M1190 687.5h3M1196 687.5h3M81 688.5h2M86 688.5h1M261 688.5h2M392 688.5h3M398 688.5h1M543 688.5h2M548 688.5h3M560 688.5h3M566 688.5h1M1160 688.5h3M1166 688.5h3M1172 688.5h3M87 689.5h2M92 689.5h1M255 689.5h2M260 689.5h1M399 689.5h2M404 689.5h3M537 689.5h2M542 689.5h1M567 689.5h2M572 689.5h3M1143 689.5h2M1148 689.5h3M1154 689.5h3M93 690.5h2M248 690.5h3M254 690.5h1M410 690.5h3M536 690.5h1M578 690.5h3M1119 690.5h2M1124 690.5h3M1130 690.5h3M1136 690.5h3M1142 690.5h1M98 691.5h3M242 691.5h3M416 691.5h3M422 691.5h1M530 691.5h3M584 691.5h1M1095 691.5h2M1100 691.5h3M1106 691.5h3M1112 691.5h3M1118 691.5h1M104 692.5h3M110 692.5h1M231 692.5h2M236 692.5h3M423 692.5h2M428 692.5h3M434 692.5h3M524 692.5h3M585 692.5h2M1071 692.5h2M1076 692.5h3M1082 692.5h3M1088 692.5h3M1094 692.5h1M111 693.5h2M116 693.5h3M152 693.5h3M158 693.5h3M164 693.5h3M170 693.5h3M176 693.5h3M182 693.5h3M188 693.5h3M194 693.5h3M200 693.5h3M206 693.5h3M212 693.5h3M218 693.5h3M224 693.5h3M230 693.5h1M440 693.5h3M446 693.5h1M518 693.5h3M590 693.5h3M1058 693.5h3M1064 693.5h3M1070 693.5h1M122 694.5h3M128 694.5h3M134 694.5h3M140 694.5h3M146 694.5h3M447 694.5h2M452 694.5h3M512 694.5h3M596 694.5h1M1052 694.5h3M458 695.5h3M506 695.5h3M597 695.5h2M1046 695.5h3M464 696.5h3M470 696.5h3M476 696.5h3M495 696.5h2M500 696.5h3M602 696.5h3M1041 696.5h2M482 697.5h3M488 697.5h3M494 697.5h1M608 697.5h3M614 697.5h1M1040 697.5h1M615 698.5h2M620 698.5h3M1034 698.5h3M626 699.5h3M1029 699.5h2M632 700.5h3M638 700.5h3M644 700.5h3M1028 700.5h1M650 701.5h3M1023 701.5h2M656 702.5h3M1022 702.5h1M662 703.5h3M1018 703.5h1M1016 704.5h2M668 705.5h3M1012 706.5h1M674 707.5h2M1010 707.5h2M676 708.5h1M1006 709.5h1M680 710.5h2M1004 710.5h2M682 711.5h1M1000 712.5h1M686 713.5h2M998 713.5h2M688 714.5h1M994 715.5h1M692 716.5h2M992 716.5h2M694 717.5h1M988 718.5h1M698 719.5h1M986 719.5h2M699 720.5h2M818 720.5h3M824 720.5h3M830 720.5h3M836 720.5h3M842 720.5h3M812 721.5h3M848 721.5h3M854 721.5h1M980 721.5h3M806 722.5h3M855 722.5h2M860 722.5h3M704 723.5h2M800 723.5h3M866 723.5h3M974 723.5h3M706 724.5h1M794 724.5h3M872 724.5h3M878 724.5h1M968 724.5h3M710 725.5h1M789 725.5h2M879 725.5h2M884 725.5h3M903 725.5h2M908 725.5h3M962 725.5h3M711 726.5h2M788 726.5h1M890 726.5h3M896 726.5h3M902 726.5h1M914 726.5h3M920 726.5h3M926 726.5h3M932 726.5h3M951 726.5h2M956 726.5h3M782 727.5h3M938 727.5h3M944 727.5h3M950 727.5h1M716 728.5h3M777 728.5h2M776 729.5h1M722 730.5h2M770 730.5h3M724 731.5h1M765 731.5h2M728 732.5h1M759 732.5h2M764 732.5h1M729 733.5h2M734 733.5h1M752 733.5h3M758 733.5h1M735 734.5h2M740 734.5h3M746 734.5h3" fill="none" stroke="#ff0000" stroke-width="1"/>
<text x="6.2" y="663" textLength="147.5" lengthAdjust="spacingAndGlyphs">MACD(12,26,9) 0.007026 0.006308</text>
<text x="1582" y="661" textLength="37" lengthAdjust="spacingAndGlyphs">0.011743</text>
<rect x="1579" y="714" width="1" height="1" fill="#000"/>
<rect x="1579" y="554" width="1" height="1" fill="#000"/>
<rect x="1579" y="746" width="1" height="1" fill="#000"/>
<text x="1582" y="718" textLength="17.8" lengthAdjust="spacingAndGlyphs">0.00</text>
<text x="1582" y="743" textLength="35.4" lengthAdjust="spacingAndGlyphs">-0.00579</text>
<rect x="1" y="23" width="1" height="724" fill="#000"/>
<rect x="1578" y="23" width="1" height="724" fill="#000"/>
<rect x="1" y="23" width="1578" height="1" fill="#000"/>
<rect x="1" y="550" width="1578" height="1" fill="#000"/>
<rect x="1" y="552" width="1578" height="1" fill="#000"/>
<rect x="1" y="648" width="1578" height="1" fill="#000"/>
<rect x="1" y="650" width="1578" height="1" fill="#000"/>
<rect x="1" y="746" width="1578" height="1" fill="#000"/>
<rect x="1" y="551" width="1578" height="1" fill="#fff"/>
<rect x="1" y="649" width="1578" height="1" fill="#fff"/>
<rect x="2" y="747" width="1" height="3" fill="#000"/>
<g transform="translate(1.6,759) scale(0.89,1)"><text x="0" y="0">18 Jun 2020</text></g>
<rect x="66" y="747" width="1" height="3" fill="#000"/>
<g transform="translate(65.6,759) scale(0.89,1)"><text x="0" y="0">27 Jun 2020</text></g>
<rect x="130" y="747" width="1" height="3" fill="#000"/>
<g transform="translate(129.6,759) scale(0.89,1)"><text x="0" y="0">7 Jul 2020</text></g>
<rect x="194" y="747" width="1" height="3" fill="#000"/>
<g transform="translate(193.6,759) scale(0.89,1)"><text x="0" y="0">16 Jul 2020</text></g>
<rect x="258" y="747" width="1" height="3" fill="#000"/>
<g transform="translate(257.6,759) scale(0.89,1)"><text x="0" y="0">25 Jul 2020</text></g>
<rect x="322" y="747" width="1" height="3" fill="#000"/>
<g transform="translate(321.6,759) scale(0.89,1)"><text x="0" y="0">4 Aug 2020</text></g>
<rect x="386" y="747" width="1" height="3" fill="#000"/>
<g transform="translate(385.6,759) scale(0.89,1)"><text x="0" y="0">13 Aug 2020</text></g>
<rect x="450" y="747" width="1" height="3" fill="#000"/>
<g transform="translate(449.6,759) scale(0.89,1)"><text x="0" y="0">22 Aug 2020</text></g>
<rect x="514" y="747" width="1" height="3" fill="#000"/>
<g transform="translate(513.6,759) scale(0.89,1)"><text x="0" y="0">1 Sep 2020</text></g>
<rect x="578" y="747" width="1" height="3" fill="#000"/>
<g transform="translate(577.6,759) scale(0.89,1)"><text x="0" y="0">10 Sep 2020</text></g>
<rect x="642" y="747" width="1" height="3" fill="#000"/>
<g transform="translate(641.6,759) scale(0.89,1)"><text x="0" y="0">19 Sep 2020</text></g>
<rect x="706" y="747" width="1" height="3" fill="#000"/>
<g transform="translate(705.6,759) scale(0.89,1)"><text x="0" y="0">29 Sep 2020</text></g>
<rect x="770" y="747" width="1" height="3" fill="#000"/>
<g transform="translate(769.6,759) scale(0.89,1)"><text x="0" y="0">8 Oct 2020</text></g>
<rect x="834" y="747" width="1" height="3" fill="#000"/>
<g transform="translate(833.6,759) scale(0.89,1)"><text x="0" y="0">17 Oct 2020</text></g>
<rect x="898" y="747" width="1" height="3" fill="#000"/>
<g transform="translate(897.6,759) scale(0.89,1)"><text x="0" y="0">27 Oct 2020</text></g>
<rect x="962" y="747" width="1" height="3" fill="#000"/>
<g transform="translate(961.6,759) scale(0.89,1)"><text x="0" y="0">5 Nov 2020</text></g>
<rect x="1026" y="747" width="1" height="3" fill="#000"/>
<g transform="translate(1025.6,759) scale(0.89,1)"><text x="0" y="0">14 Nov 2020</text></g>
<rect x="1090" y="747" width="1" height="3" fill="#000"/>
<g transform="translate(1089.6,759) scale(0.89,1)"><text x="0" y="0">24 Nov 2020</text></g>
<rect x="1154" y="747" width="1" height="3" fill="#000"/>
<g transform="translate(1153.6,759) scale(0.89,1)"><text x="0" y="0">3 Dec 2020</text></g>
<rect x="1218" y="747" width="1" height="3" fill="#000"/>
<g transform="translate(1217.6,759) scale(0.89,1)"><text x="0" y="0">12 Dec 2020</text></g>
<rect x="0" y="767" width="1620" height="1" fill="#dcdcdc"/>
<rect x="0" y="768" width="1620" height="16" fill="#f0f0f0"/>
<rect x="0" y="769" width="1620" height="1" fill="#141414"/>
<rect x="208" y="768" width="102" height="16" fill="#fff"/>
<rect x="207" y="769" width="1" height="15" fill="#141414"/>
<rect x="310" y="769" width="1" height="15" fill="#141414"/>
<text class="tab" x="15.3" y="784.6" textLength="79.7" lengthAdjust="spacingAndGlyphs">EURUSD,Daily</text>
<text class="tab" x="117.5" y="784.6" textLength="80.0" lengthAdjust="spacingAndGlyphs">USDCHF,Daily</text>
<text class="tab" x="322.7" y="784.6" textLength="80.0" lengthAdjust="spacingAndGlyphs">USDCAD,Daily</text>
<text class="tab" x="425" y="784.6" textLength="83.0" lengthAdjust="spacingAndGlyphs">USDCNH,Daily</text>
<text class="tab" x="531" y="784.6" textLength="80.7" lengthAdjust="spacingAndGlyphs">EURUSD,Daily</text>
<text class="tab" x="635" y="784.6" textLength="67.7" lengthAdjust="spacingAndGlyphs">GBPUSD,H4</text>
<text class="tab" x="726.7" y="784.6" textLength="67.6" lengthAdjust="spacingAndGlyphs">XAUUSD,H1</text>
<text class="tab" x="818.3" y="784.6" textLength="49.0" lengthAdjust="spacingAndGlyphs">HK50,H1</text>
<text class="tab" x="890" y="784.6" textLength="56.0" lengthAdjust="spacingAndGlyphs">UK100,H1</text>
<text class="tab" x="970" y="784.6" textLength="56.0" lengthAdjust="spacingAndGlyphs">UK100,H1</text>
<text class="tab" x="1050" y="784.6" textLength="56.0" lengthAdjust="spacingAndGlyphs">GER30,H1</text>
<text class="tab" x="1129.3" y="784.6" textLength="54.0" lengthAdjust="spacingAndGlyphs">FRA40,H1</text>
<text class="tab" x="1205.7" y="784.6" textLength="62.0" lengthAdjust="spacingAndGlyphs">USOil,Daily</text>
<text class="tab" x="1289.3" y="784.6" textLength="61.7" lengthAdjust="spacingAndGlyphs">USDJPY,H1</text>
<text class="tab" x="1373.3" y="784.6" textLength="58.5" lengthAdjust="spacingAndGlyphs">DJ30,Daily</text>
<text class="tab" x="1453.3" y="784.6" textLength="78.3" lengthAdjust="spacingAndGlyphs">CHINA300,H1</text>
<text class="tab" x="1553.3" y="784.6" textLength="33.4" lengthAdjust="spacingAndGlyphs">USOil,</text>
<text class="tab" style="fill:#000;stroke:#000" x="218.5" y="784.6" textLength="81.7" lengthAdjust="spacingAndGlyphs">AUDUSD,Daily</text>
<rect x="107" y="772" width="1" height="12" fill="#6e6e6e"/>
<rect x="415" y="772" width="1" height="12" fill="#6e6e6e"/>
<rect x="519" y="772" width="1" height="12" fill="#6e6e6e"/>
<rect x="623" y="772" width="1" height="12" fill="#6e6e6e"/>
<rect x="715" y="772" width="1" height="12" fill="#6e6e6e"/>
<rect x="807" y="772" width="1" height="12" fill="#6e6e6e"/>
<rect x="879" y="772" width="1" height="12" fill="#6e6e6e"/>
<rect x="959" y="772" width="1" height="12" fill="#6e6e6e"/>
<rect x="1039" y="772" width="1" height="12" fill="#6e6e6e"/>
<rect x="1119" y="772" width="1" height="12" fill="#6e6e6e"/>
<rect x="1195" y="772" width="1" height="12" fill="#6e6e6e"/>
<rect x="1279" y="772" width="1" height="12" fill="#6e6e6e"/>
<rect x="1363" y="772" width="1" height="12" fill="#6e6e6e"/>
<rect x="1443" y="772" width="1" height="12" fill="#6e6e6e"/>
<rect x="1543" y="772" width="1" height="12" fill="#6e6e6e"/>
<path d="M1598 774 L1598 781 L1594 777.5 Z" fill="#a0a0a0" shape-rendering="auto"/>
<path d="M1612 774 L1612 781 L1616 777.5 Z" fill="#000" shape-rendering="auto"/>
</svg></body></html>
